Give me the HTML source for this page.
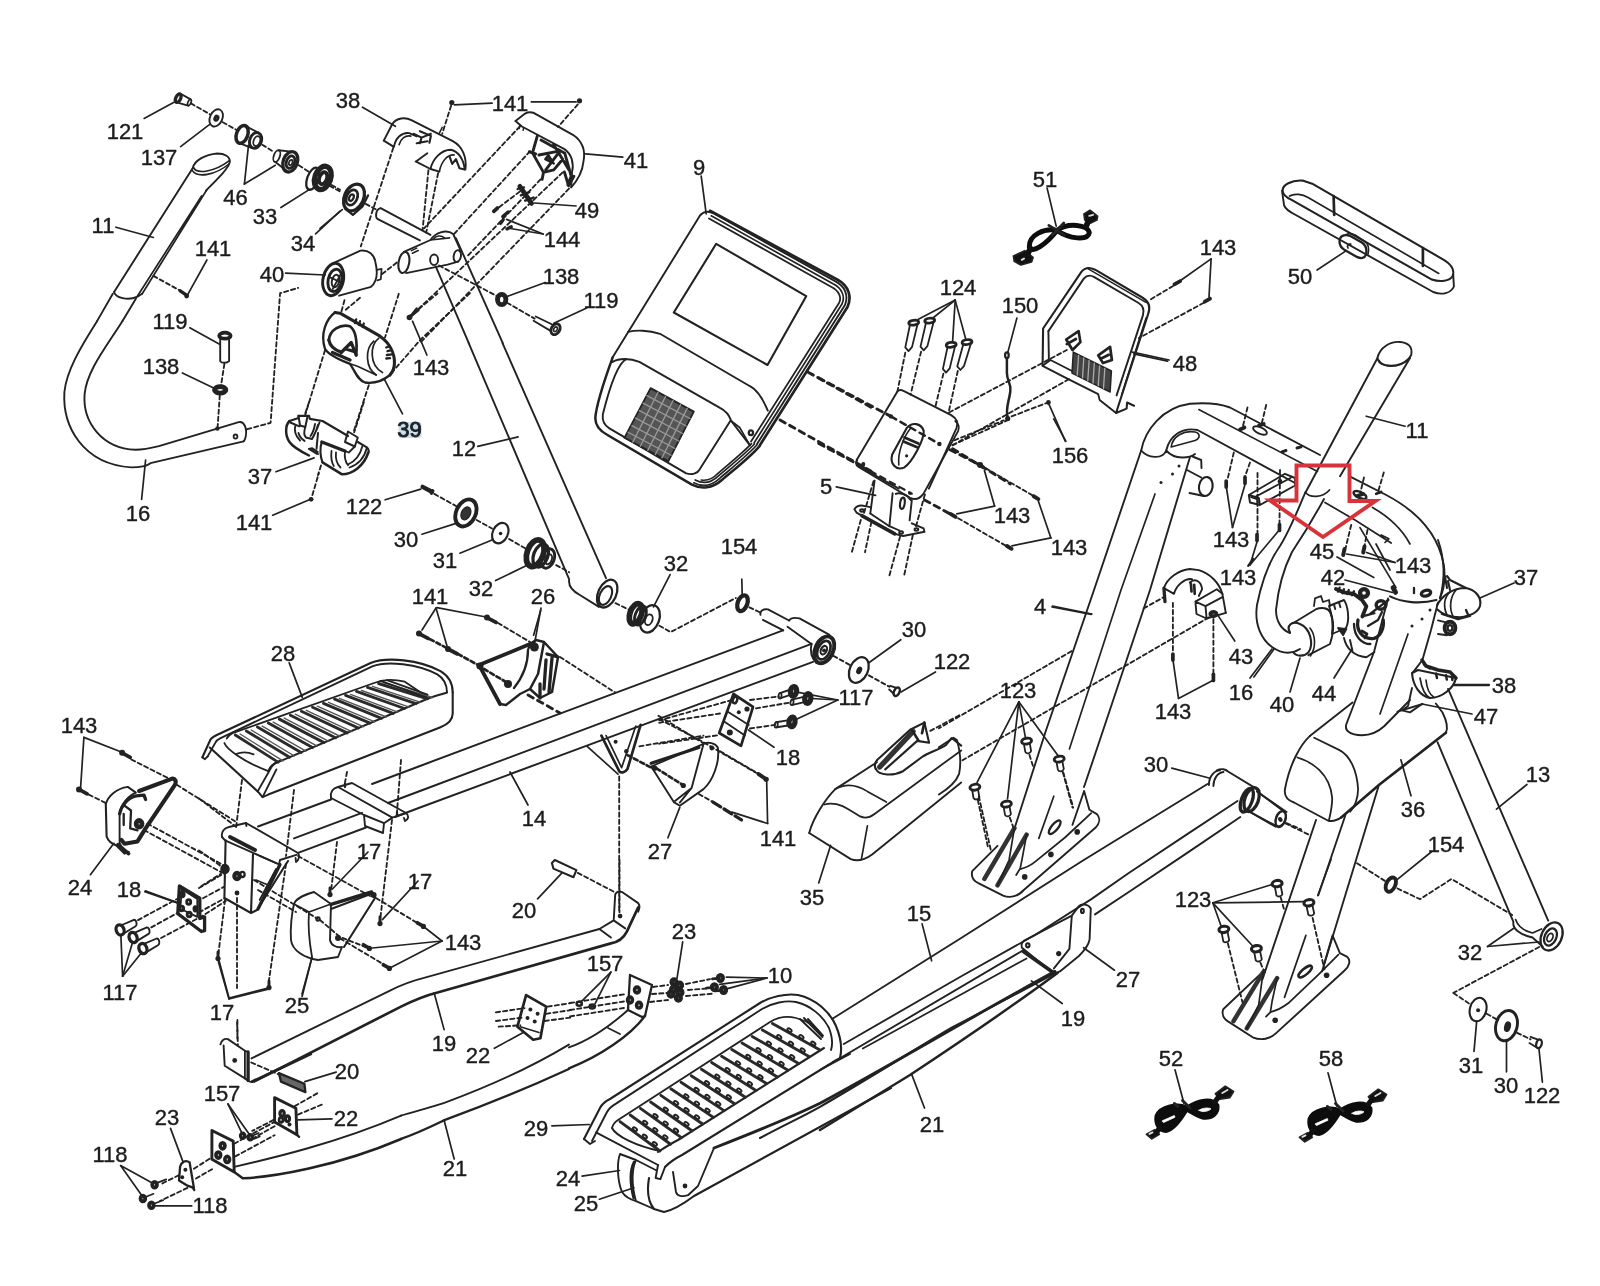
<!DOCTYPE html>
<html><head><meta charset="utf-8"><title>Parts diagram</title>
<style>html,body{margin:0;padding:0;background:#fff}svg{display:block;filter:blur(0.45px)}text{font-family:"Liberation Sans",sans-serif}</style>
</head><body>
<svg width="1600" height="1286" viewBox="0 0 1600 1286" stroke-linecap="round" stroke-linejoin="round">
<rect width="1600" height="1286" fill="#fff"/>
<ellipse cx="178.2" cy="98.2" rx="2.4" ry="4.5" transform="rotate(25 178.2 98.2)" fill="none" stroke="#222" stroke-width="3.30"/>
<path d="M 180.2,93.5 L 190.6,99.3 M 178.4,102.9 L 188.1,105.7" fill="none" stroke="#222" stroke-width="1.90"/>
<ellipse cx="189.4" cy="102.5" rx="1.5" ry="3.2" transform="rotate(25 189.4 102.5)" fill="none" stroke="#222" stroke-width="1.70"/>
<path d="M 190.9,103.4 L 209.7,114.1" fill="none" stroke="#222" stroke-width="1.85" stroke-dasharray="4.2 3"/>
<path d="M 222.8,122.2 L 236.9,130.2" fill="none" stroke="#222" stroke-width="1.85" stroke-dasharray="4.2 3"/>
<path d="M 262.2,144.7 L 274.4,152.2" fill="none" stroke="#222" stroke-width="1.85" stroke-dasharray="4.2 3"/>
<path d="M 298.8,165.3 L 309.1,171.9" fill="none" stroke="#222" stroke-width="1.85" stroke-dasharray="4.2 3"/>
<path d="M 331.6,185 L 340,189.7" fill="none" stroke="#222" stroke-width="1.85" stroke-dasharray="4.2 3"/>
<ellipse cx="216.2" cy="117.9" rx="6.2" ry="9.0" transform="rotate(25 216.2 117.9)" fill="none" stroke="#222" stroke-width="1.90"/>
<ellipse cx="216.4" cy="118.2" rx="1.5" ry="2.2" transform="rotate(25 216.4 118.2)" fill="none" stroke="#222" stroke-width="2.80"/>
<ellipse cx="242.1" cy="134.4" rx="5.6" ry="9.2" transform="rotate(20 242.1 134.4)" fill="none" stroke="#222" stroke-width="3.50"/>
<path d="M 244.8,125.6 L 258.1,132.5 M 239.3,143.2 L 252.2,148.1" fill="none" stroke="#222" stroke-width="1.90"/>
<ellipse cx="255.6" cy="140.4" rx="5.8" ry="8.1" transform="rotate(20 255.6 140.4)" fill="none" stroke="#222" stroke-width="2.90"/>
<ellipse cx="256.8" cy="141.1" rx="3.2" ry="5.1" transform="rotate(20 256.8 141.1)" fill="none" stroke="#222" stroke-width="1.80"/>
<path d="M 278.5,150.3 L 291.2,151.6 M 275.3,161.9 L 287.5,171.5" fill="none" stroke="#222" stroke-width="1.90"/>
<ellipse cx="276.8" cy="156.1" rx="3.0" ry="6.0" transform="rotate(20 276.8 156.1)" fill="none" stroke="#222" stroke-width="1.80"/>
<ellipse cx="290.3" cy="161.8" rx="7.1" ry="10.5" transform="rotate(20 290.3 161.8)" fill="none" stroke="#222" stroke-width="3.30"/>
<ellipse cx="290.5" cy="162.1" rx="4.1" ry="6.4" transform="rotate(20 290.5 162.1)" fill="none" stroke="#222" stroke-width="2.90"/>
<ellipse cx="290.7" cy="162.5" rx="1.7" ry="2.8" transform="rotate(20 290.7 162.5)" fill="none" stroke="#222" stroke-width="1.70"/>
<ellipse cx="312.8" cy="178.8" rx="5.6" ry="11.6" transform="rotate(20 312.8 178.8)" fill="none" stroke="#222" stroke-width="2.30"/>
<ellipse cx="322.8" cy="177.9" rx="7.9" ry="12.0" transform="rotate(20 322.8 177.9)" fill="none" stroke="#222" stroke-width="5.30"/>
<ellipse cx="323.1" cy="178.2" rx="3.8" ry="6.2" transform="rotate(20 323.1 178.2)" fill="none" stroke="#222" stroke-width="3.80"/>
<path d="M 192.8,168.1 L 114.1,291.9" fill="none" stroke="#222" stroke-width="1.90"/>
<path d="M 192.8,168.1 C 194.1,160.6 205,154.6 217.2,153.5 C 224.7,153.5 230.3,156.5 229.8,162.1 C 228.4,168.1 220,176.6 205.9,190.6" fill="none" stroke="#222" stroke-width="1.90"/>
<path d="M 193.4,167.4 C 196.6,174.7 214.4,171.9 229.4,160.6" fill="none" stroke="#222" stroke-width="1.70"/>
<path d="M 192.2,170.4 C 197.1,178.4 215.3,175.2 229,164" fill="none" stroke="#222" stroke-width="1.60"/>
<path d="M 206.5,190.2 L 142.2,293.8 M 201.6,195.9 L 137.5,296" fill="none" stroke="#222" stroke-width="1.70"/>
<path d="M 114.1,291.9 C 115,297.9 128.1,300.9 137.5,296.6 L 142.2,293.8" fill="none" stroke="#222" stroke-width="1.90"/>
<path d="M 112.8,293.8 L 97.2,320.9 M 136,298.4 L 122.5,320.9" fill="none" stroke="#222" stroke-width="1.90"/>
<path d="M 144.1,118.4 L 175.4,101.6" fill="none" stroke="#222" stroke-width="1.70"/>
<path d="M 180.6,146.6 L 209.7,124.4" fill="none" stroke="#222" stroke-width="1.70"/>
<path d="M 244.4,184.1 L 248.5,145.1" fill="none" stroke="#222" stroke-width="1.70"/>
<path d="M 244.4,184.1 L 275.3,165.3" fill="none" stroke="#222" stroke-width="1.70"/>
<path d="M 280.9,207.5 L 310,189.1" fill="none" stroke="#222" stroke-width="1.70"/>
<path d="M 315.6,233.8 L 340,211.2" fill="none" stroke="#222" stroke-width="1.70"/>
<path d="M 115.9,227.2 L 153.4,237.5" fill="none" stroke="#222" stroke-width="1.70"/>
<path d="M 206.9,260 L 188.1,293.8" fill="none" stroke="#222" stroke-width="1.70"/>
<path d="M 285.6,273.1 L 325,275" fill="none" stroke="#222" stroke-width="1.70"/>
<path d="M 180.2,290.9 L 187.2,295.6" fill="none" stroke="#222" stroke-width="3.50"/>
<circle cx="186.6" cy="296" r="2.4" fill="#222"/>
<path d="M 153.4,275.9 L 179.7,290.4" fill="none" stroke="#222" stroke-width="1.85" stroke-dasharray="4.2 3"/>
<path d="M 383.8,140.6 L 392.2,124.2 C 396.5,117.8 405,116.8 411.4,120.2 L 452.8,141.2 C 462.4,146.5 467,157.1 465.4,169.4" fill="none" stroke="#222" stroke-width="1.90"/>
<path d="M 383.8,140.6 L 393.9,146.9 C 395.4,138 401.8,132.1 409.2,133.1 L 416.7,136.3" fill="none" stroke="#222" stroke-width="1.90"/>
<path d="M 399.1,144.8 C 400.8,138.4 405.4,135 410.9,136.1" fill="none" stroke="#222" stroke-width="1.60"/>
<path d="M 413.5,133.8 L 421.6,137.6 L 419.9,143.3 M 421.6,137.6 L 430.9,133.8 M 419.9,131.2 L 430.9,135.9 L 429.4,142.7 M 416.7,143.3 L 427.3,141.2" fill="none" stroke="#222" stroke-width="2.10"/>
<path d="M 416.7,160.9 L 427.3,153.3 M 415.6,161.4 L 430.5,169 L 439.4,171.6" fill="none" stroke="#222" stroke-width="1.90"/>
<path d="M 430.5,169 C 432.6,159.2 441.1,149.7 450.7,149.7 C 458.1,150.8 463.6,159.2 464.7,169.4" fill="none" stroke="#222" stroke-width="1.90"/>
<path d="M 439.4,171.6 C 441.1,161.8 447.5,154.1 454.3,155" fill="none" stroke="#222" stroke-width="1.60"/>
<path d="M 449.6,156.7 L 452.2,163.9 L 456,159.2 L 459.4,168.2 L 464.7,169.4" fill="none" stroke="#222" stroke-width="2.10"/>
<path d="M 439,133.8 L 442.2,127.4" fill="none" stroke="#222" stroke-width="1.50"/>
<path d="M 515.5,121 L 525.1,113.6 C 529.3,111.4 533.6,112.5 536.8,114.6 L 572.9,134.8 C 582.4,141.2 585.6,150.8 583.5,161.4 C 582.4,172 577.5,180.5 571.2,187.3" fill="none" stroke="#222" stroke-width="1.90"/>
<path d="M 515.5,121 L 521.9,126.5 L 564.4,149.1 C 571.8,154.1 574.1,163.5 572,172.4 L 571.2,187.3" fill="none" stroke="#222" stroke-width="1.90"/>
<path d="M 519.8,125.7 L 519.3,128.4 M 523.6,127.8 L 523.1,130.3" fill="none" stroke="#222" stroke-width="1.50"/>
<path d="M 537.2,136.3 L 532.5,152.9 L 543.5,172.4 L 553.8,169.9 L 562.7,159.2 M 538.9,155 L 560.1,150.8 L 545.7,169.9 M 541,140.1 L 564.8,153.3 M 564.8,153.3 L 571.2,176.2 L 567.8,184.8 M 553.8,144.8 L 569,169.9 M 535.7,153.9 L 529.3,151.8 M 543.5,172.4 L 542.1,179.4 M 564.4,172 L 568.6,185.8 L 573.9,176.2" fill="none" stroke="#222" stroke-width="2.90"/>
<path d="M 545.2,159.2 L 553.8,163.5 L 548.4,155 Z" fill="#333" stroke="#222" stroke-width="2.30"/>
<path d="M 519.8,186.4 L 531.6,203.4" fill="none" stroke="#222" stroke-width="4.80"/>
<path d="M 517.6,189 L 524,187.3 M 520.8,195.4 L 529.3,192.2 M 525.1,200.7 L 533.6,197.5" fill="none" stroke="#222" stroke-width="2.30"/>
<path d="M 493.8,211.3 L 497.4,208.1" fill="none" stroke="#222" stroke-width="3.80"/>
<path d="M 502.8,216.6 L 508.1,211.9 M 500.6,223.4 L 503.2,219.8" fill="none" stroke="#222" stroke-width="3.30"/>
<path d="M 507,228.9 L 511.2,226.8" fill="none" stroke="#222" stroke-width="3.30"/>
<path d="M 543.1,234 L 506.6,219.4" fill="none" stroke="#222" stroke-width="1.70"/>
<path d="M 543.1,234 L 510.4,228.5" fill="none" stroke="#222" stroke-width="1.70"/>
<path d="M 576.1,206 L 534.6,203" fill="none" stroke="#222" stroke-width="1.70"/>
<circle cx="451.8" cy="102.5" r="2.6" fill="#222"/>
<circle cx="579.5" cy="100.8" r="2.6" fill="#222"/>
<path d="M 454.3,104.8 L 492.1,103.2" fill="none" stroke="#222" stroke-width="1.70"/>
<path d="M 531.4,101.9 L 576.1,101.9" fill="none" stroke="#222" stroke-width="1.70"/>
<path d="M 585.6,153.9 L 622.8,157.1" fill="none" stroke="#222" stroke-width="1.70"/>
<path d="M 362.5,107.2 L 395.4,126.3" fill="none" stroke="#222" stroke-width="1.70"/>
<path d="M 451.1,105.7 L 442.2,133.8" fill="none" stroke="#222" stroke-width="1.85" stroke-dasharray="4.2 3"/>
<path d="M 428.4,170.3 L 422.6,229.8" fill="none" stroke="#222" stroke-width="1.85" stroke-dasharray="4.2 3"/>
<path d="M 438.1,173.1 L 426.2,232.6" fill="none" stroke="#222" stroke-width="1.85" stroke-dasharray="4.2 3"/>
<path d="M 393.3,147.8 L 360.8,246.4" fill="none" stroke="#222" stroke-width="1.85" stroke-dasharray="4.2 3"/>
<path d="M 577.8,104.4 L 558,126.9" fill="none" stroke="#222" stroke-width="1.85" stroke-dasharray="4.2 3"/>
<path d="M 519.8,126.5 L 424.1,228.3" fill="none" stroke="#222" stroke-width="1.85" stroke-dasharray="4.2 3"/>
<path d="M 530,151.2 L 453.4,234.7" fill="none" stroke="#222" stroke-width="1.85" stroke-dasharray="4.2 3"/>
<path d="M 540.6,179.4 L 466.6,257" fill="none" stroke="#222" stroke-width="1.85" stroke-dasharray="4.2 3"/>
<path d="M 519.8,191.6 L 497.4,208.5" fill="none" stroke="#222" stroke-width="1.85" stroke-dasharray="4.2 3"/>
<path d="M 562.7,172.4 L 410.9,316.1" fill="none" stroke="#222" stroke-width="1.85" stroke-dasharray="4.2 3"/>
<path d="M 569,188.6 L 419.9,343.1" fill="none" stroke="#222" stroke-width="1.85" stroke-dasharray="4.2 3"/>
<path d="M 380.6,208.1 L 430.5,234.9 M 377.8,219.2 L 419.9,240.4 M 380.6,208.1 C 375.7,209.2 374.8,217 377.8,219.2" fill="none" stroke="#222" stroke-width="1.90"/>
<path d="M 403.9,251.9 L 430.5,240 C 434.8,233.2 445.8,228.3 453.2,234 L 460.7,250.6" fill="none" stroke="#222" stroke-width="1.90"/>
<path d="M 406.1,273.1 L 447.5,264.6 L 458.1,261.7" fill="none" stroke="#222" stroke-width="1.90"/>
<ellipse cx="403.9" cy="262.5" rx="5.3" ry="10.6" transform="rotate(10 403.9 262.5)" fill="none" stroke="#222" stroke-width="2.10"/>
<ellipse cx="457.3" cy="256.1" rx="3.6" ry="6.0" transform="rotate(10 457.3 256.1)" fill="none" stroke="#222" stroke-width="1.90"/>
<ellipse cx="434.1" cy="259.8" rx="4.0" ry="5.3" transform="rotate(0 434.1 259.8)" fill="none" stroke="#222" stroke-width="1.90"/>
<path d="M 430.5,240 L 449.6,237.9 M 433.7,238.9 C 435.8,235.8 441.1,234.7 444.3,237.9" fill="none" stroke="#222" stroke-width="1.60"/>
<path d="M 411.4,250.6 L 416.7,248.1 M 412.4,253.2 L 418.2,250.6" fill="none" stroke="#222" stroke-width="1.60"/>
<path d="M 435.8,266.6 L 468.8,343.1 M 456,238.3 L 502.8,343.1" fill="none" stroke="#222" stroke-width="1.90"/>
<ellipse cx="354" cy="197.5" rx="9.6" ry="14.0" transform="rotate(25 354 197.5)" fill="none" stroke="#222" stroke-width="3.30"/>
<ellipse cx="351.9" cy="197.5" rx="5.3" ry="8.1" transform="rotate(25 351.9 197.5)" fill="none" stroke="#222" stroke-width="2.70"/>
<ellipse cx="351.4" cy="197.7" rx="2.1" ry="3.4" transform="rotate(25 351.4 197.7)" fill="none" stroke="#222" stroke-width="2.30"/>
<path d="M 345.1,208.5 L 352.9,214.9 L 362.5,206.4 L 368,195.4" fill="none" stroke="#222" stroke-width="2.30"/>
<path d="M 320,228.3 L 342.3,209.6" fill="none" stroke="#222" stroke-width="1.70"/>
<path d="M 329.6,185.8 L 341.2,192.2" fill="none" stroke="#222" stroke-width="1.85" stroke-dasharray="4.2 3"/>
<path d="M 365.7,203.9 L 377.4,210.2" fill="none" stroke="#222" stroke-width="1.85" stroke-dasharray="4.2 3"/>
<path d="M 332.8,263.4 L 360.4,250.6 C 368.9,249.6 374.2,254.9 375.2,261.2 C 378.4,274 376.3,282.5 371,286.8 L 339.1,295.7" fill="none" stroke="#222" stroke-width="1.90"/>
<ellipse cx="333.2" cy="279.5" rx="10.2" ry="16.4" transform="rotate(12 333.2 279.5)" fill="none" stroke="#222" stroke-width="2.90"/>
<ellipse cx="334.9" cy="280.4" rx="6.8" ry="11.3" transform="rotate(12 334.9 280.4)" fill="none" stroke="#222" stroke-width="2.90"/>
<ellipse cx="335.5" cy="281" rx="3.6" ry="6.4" transform="rotate(12 335.5 281)" fill="none" stroke="#222" stroke-width="1.90"/>
<path d="M 329.6,277.2 L 341.2,282.5 M 332.8,288.9 L 340.2,275.1" fill="none" stroke="#222" stroke-width="1.90"/>
<path d="M 376.9,269.8 L 381.6,268.9 L 380.8,279.3 L 377.4,280.4" fill="none" stroke="#222" stroke-width="1.70"/>
<path d="M 382.1,274 L 398.6,261.2" fill="none" stroke="#222" stroke-width="1.85" stroke-dasharray="4.2 3"/>
<ellipse cx="501.7" cy="299.5" rx="4.2" ry="5.1" transform="rotate(0 501.7 299.5)" fill="none" stroke="#222" stroke-width="4.80"/>
<path d="M 439,265.5 L 497.4,296.3" fill="none" stroke="#222" stroke-width="1.85" stroke-dasharray="4.2 3"/>
<path d="M 507,302.7 L 534.6,318.6" fill="none" stroke="#222" stroke-width="1.85" stroke-dasharray="4.2 3"/>
<path d="M 535.7,316.5 L 553.3,325 M 533.6,320.8 L 550.6,330.9" fill="none" stroke="#222" stroke-width="1.90"/>
<ellipse cx="555.5" cy="329.2" rx="4.2" ry="5.7" transform="rotate(30 555.5 329.2)" fill="none" stroke="#222" stroke-width="2.90"/>
<ellipse cx="555.5" cy="329.2" rx="1.7" ry="2.5" transform="rotate(30 555.5 329.2)" fill="none" stroke="#222" stroke-width="1.70"/>
<path d="M 545.2,282.5 L 507,296.5" fill="none" stroke="#222" stroke-width="1.70"/>
<path d="M 586.7,308 L 553.8,323.3" fill="none" stroke="#222" stroke-width="1.70"/>
<path d="M 410.3,316.5 L 416.7,308.4" fill="none" stroke="#222" stroke-width="2.30"/>
<circle cx="410.1" cy="316.9" r="2.4" fill="#222"/>
<path d="M 97.2,321 C 80.4,347.4 66.6,370.8 64.4,392 C 62.3,426 82.5,464.2 131.4,467.4 C 139.9,467.4 146.2,466.4 150.5,463.2 L 243.6,441.3" fill="none" stroke="#222" stroke-width="1.90"/>
<path d="M 122.5,321 C 105.9,347.4 86.8,370.8 84.6,394.1 C 82.5,421.8 101.6,448.3 135.6,449.8 C 142,449.8 150.5,448.3 159,446.2 L 238.7,422.2 C 244,420.9 247.4,428.1 245.7,436.6 C 245.1,439.8 244.4,440.4 243.6,441.3" fill="none" stroke="#222" stroke-width="1.90"/>
<ellipse cx="235.5" cy="436.6" rx="1.9" ry="2.1" transform="rotate(0 235.5 436.6)" fill="none" stroke="#222" stroke-width="1.80"/>
<ellipse cx="224.9" cy="335.7" rx="5.7" ry="3.0" transform="rotate(0 224.9 335.7)" fill="none" stroke="#222" stroke-width="3.80"/>
<path d="M 220.2,339.3 L 220.2,361.2 C 221.7,363.3 227,363.3 229.1,361.2 L 229.1,339.3" fill="none" stroke="#222" stroke-width="1.90"/>
<path d="M 224.4,363.9 L 221,385.6" fill="none" stroke="#222" stroke-width="1.85" stroke-dasharray="4.2 3"/>
<path d="M 219.8,395.2 L 217.7,426" fill="none" stroke="#222" stroke-width="1.85" stroke-dasharray="4.2 3"/>
<ellipse cx="220.2" cy="389.9" rx="5.7" ry="3.2" transform="rotate(0 220.2 389.9)" fill="none" stroke="#222" stroke-width="4.80"/>
<circle cx="217.4" cy="428.5" r="2.2" fill="#222"/>
<path d="M 189.8,327.8 L 219.6,344.2" fill="none" stroke="#222" stroke-width="1.70"/>
<path d="M 182.4,372.9 L 214.2,388.2" fill="none" stroke="#222" stroke-width="1.70"/>
<path d="M 141.6,499.3 L 145.6,460" fill="none" stroke="#222" stroke-width="1.70"/>
<path d="M 275.9,471.7 L 314.1,457.9" fill="none" stroke="#222" stroke-width="1.70"/>
<path d="M 272.7,515.2 L 309.9,499.5" fill="none" stroke="#222" stroke-width="1.70"/>
<circle cx="311.1" cy="499.3" r="2.4" fill="#222"/>
<path d="M 312.4,495.1 L 318.8,473.2" fill="none" stroke="#222" stroke-width="1.85" stroke-dasharray="4.2 3"/>
<path d="M 247.2,429.2 L 270.6,422.8 L 280.1,293.2 L 298.2,287.9" fill="none" stroke="#222" stroke-width="1.85" stroke-dasharray="4.2 3"/>
<path d="M 289.5,421 C 285,425.5 285,435.3 289.5,442 C 292.5,446.5 300,451 309,455.5" fill="none" stroke="#222" stroke-width="2.50"/>
<path d="M 289.5,421 L 298.5,418 L 298.5,415.8 L 309,415.8 L 309.8,418.8 L 322.5,421 L 348,436" fill="none" stroke="#222" stroke-width="2.20"/>
<path d="M 298.5,415.8 L 300,425.5 L 305.3,427 L 307.5,416.5" fill="none" stroke="#222" stroke-width="2.00"/>
<path d="M 295.5,424.8 C 294,430 295.5,436 300,440.5 M 298.5,433 C 299.3,436 301.5,439 304.5,440.9 M 290.3,422.5 L 299.3,426.3" fill="none" stroke="#222" stroke-width="1.90"/>
<path d="M 305.3,427 C 303.8,431.5 303.8,435.3 306,437.5 L 312,439 C 315,434.5 316.5,430 318,424.8 M 312,439 C 313.5,436 316.5,431.5 319.5,422.5 M 315,424 C 314.3,428.5 312.8,433 310.5,436" fill="none" stroke="#222" stroke-width="1.90"/>
<path d="M 318,433 L 316.5,448.8 M 309,448.8 L 318,454" fill="none" stroke="#222" stroke-width="2.00"/>
<path d="M 309,448.8 L 312,448 L 318,451.8 L 316.5,454 Z" fill="#333" stroke="#222" stroke-width="1.50"/>
<path d="M 321.8,442 L 345,451" fill="none" stroke="#222" stroke-width="3.30"/>
<path d="M 321.8,442 C 319.5,448 320.3,457 322.5,462.3" fill="none" stroke="#222" stroke-width="2.10"/>
<path d="M 322.5,462.3 L 342,474.3 C 352.5,474.3 363.8,466 368.3,452.5" fill="none" stroke="#222" stroke-width="2.60"/>
<path d="M 348,431.5 L 345,442 L 354.8,446.5 L 357.8,437.5 Z" fill="none" stroke="#222" stroke-width="2.00"/>
<path d="M 357.8,442 L 366.8,447.3 C 369,449.5 369,451.8 368.3,452.5" fill="none" stroke="#222" stroke-width="2.10"/>
<path d="M 366.8,448 C 364.5,457 358.5,464.5 349.5,467.5 M 362.3,446.5 C 360,455.5 354.8,461.5 348,464.5 M 345,451 C 344.3,457 345,461.5 348,465.3 M 336,452.5 C 335.3,458.5 336.8,463.8 340.5,467.5 M 331.5,451 C 330.8,457 331.5,462.3 333.8,466 M 354.8,446.5 L 348.8,452.5 L 345,451" fill="none" stroke="#222" stroke-width="1.80"/>
<path d="M 309,402.3 L 304.7,415" fill="none" stroke="#222" stroke-width="1.85" stroke-dasharray="4.2 3"/>
<path d="M 363.8,402.3 L 354.2,432.3" fill="none" stroke="#222" stroke-width="1.85" stroke-dasharray="4.2 3"/>
<path d="M 321,465.4 L 318,475" fill="none" stroke="#222" stroke-width="1.85" stroke-dasharray="4.2 3"/>
<path d="M 335,312.5 C 326.2,318.8 320,333.8 325,348.8 C 328.8,355 340,360 350,363.8 C 355,371.2 357.5,380 365,382.5 C 375,383.8 382.5,381.2 390,375" fill="none" stroke="#222" stroke-width="2.30"/>
<path d="M 335,312.5 L 340,313.2 L 380,336.2 C 388.8,342.5 395,352.5 394.4,363.8 C 394.4,367.5 393.1,371.2 390,375" fill="none" stroke="#222" stroke-width="3.10"/>
<path d="M 378.8,338.1 C 370,345 368.8,365 382.5,372.5 M 373.8,341.2 C 365,348.8 365,367.5 376.2,375" fill="none" stroke="#222" stroke-width="1.70"/>
<path d="M 328.8,340 C 330,330 340,323.8 350,326.2 C 355,330 357.5,340 356.2,355" fill="none" stroke="#222" stroke-width="2.70"/>
<path d="M 328.8,340 C 330,346.2 335,350 340.6,351.9 M 341.2,352.5 L 351.2,342.5 L 356.2,355.2 M 346,349 L 354,351.5 M 332.5,352.5 L 350,360" fill="none" stroke="#222" stroke-width="3.30"/>
<path d="M 356.2,319.4 L 355,323.1 M 360,321.2 L 359,325 M 363.8,323.5 L 362.8,327 M 386.2,347.5 L 390,346.2 M 387.5,351.2 L 391.5,350.2 M 386.9,355 L 391.9,354.4 M 386.2,358.5 L 390,358.1" fill="none" stroke="#222" stroke-width="2.30"/>
<path d="M 350,363.8 L 357.5,366.2 L 376.2,375" fill="none" stroke="#222" stroke-width="1.60"/>
<path d="M 402.5,413.8 L 384.4,379.4" fill="none" stroke="#222" stroke-width="1.70"/>
<path d="M 426.9,355 L 412.5,321.2" fill="none" stroke="#222" stroke-width="1.70"/>
<path d="M 409.4,317.5 L 418.5,310" fill="none" stroke="#222" stroke-width="2.50"/>
<circle cx="409.4" cy="317.5" r="2.8" fill="#222"/>
<path d="M 341.5,311.2 L 345.2,297.5" fill="none" stroke="#222" stroke-width="1.85" stroke-dasharray="4.2 3"/>
<path d="M 360,297.8 L 344,311.2" fill="none" stroke="#222" stroke-width="1.85" stroke-dasharray="4.2 3"/>
<path d="M 398.8,293.8 L 385,337.5" fill="none" stroke="#222" stroke-width="1.85" stroke-dasharray="4.2 3"/>
<path d="M 325,350.2 L 305.2,415" fill="none" stroke="#222" stroke-width="1.85" stroke-dasharray="4.2 3"/>
<path d="M 368.8,385.2 L 353.8,431.2" fill="none" stroke="#222" stroke-width="1.85" stroke-dasharray="4.2 3"/>
<path d="M 418.8,309 L 437.5,293.5" fill="none" stroke="#222" stroke-width="1.85" stroke-dasharray="4.2 3"/>
<path d="M 470,293.1 L 420,340.2 L 390.2,374.5" fill="none" stroke="#222" stroke-width="1.85" stroke-dasharray="4.2 3"/>
<path d="M 612.5,357.5 L 700,215.5 C 703.8,211.2 708.8,210.8 713.8,213.5 L 835,281.2 C 845,286.2 848.8,295.5 845,305 L 757,444" fill="none" stroke="#222" stroke-width="1.90"/>
<path d="M 710,210.8 L 838,280 C 849,286.2 852,297 847.5,307 L 760,445" fill="none" stroke="#222" stroke-width="2.70"/>
<path d="M 711.2,215.8 L 833,283.8 C 842,288.2 845.5,296.5 842,304 L 754,443" fill="none" stroke="#222" stroke-width="1.70"/>
<path d="M 709,218.5 L 831.5,287 C 839,290.8 842,297.5 839,303 L 751,441.5" fill="none" stroke="#222" stroke-width="1.80"/>
<path d="M 716.2,243.8 L 806.2,296.2 L 767.5,365 L 673.8,312.5 Z" fill="none" stroke="#222" stroke-width="2.10"/>
<path d="M 701.2,176.2 L 706.2,213.8" fill="none" stroke="#222" stroke-width="1.70"/>
<path d="M 612.6,357.6 C 605.6,376.9 596.2,405 595.3,418.1 C 595.3,425.6 600,431.2 607.5,435 L 691.9,484.7 C 701.2,489.4 712.5,488.4 721.9,480 C 735,468.8 750,457.5 759.8,445.9" fill="none" stroke="#222" stroke-width="2.50"/>
<path d="M 693.8,482.8 C 702.2,487.1 711.6,486 720,478.1 C 733.1,466.9 747.2,455.6 757.1,444.8" fill="none" stroke="#222" stroke-width="1.70"/>
<path d="M 695.2,480 C 702.8,484.1 710.6,483.4 718.5,475.9 C 731.2,465 744.4,454.5 754.5,444" fill="none" stroke="#222" stroke-width="1.70"/>
<path d="M 701.2,480 C 706.9,480.9 712.5,479.1 717.2,474 C 729.4,463.5 741.6,453.8 751.5,443.6" fill="none" stroke="#222" stroke-width="1.70"/>
<path d="M 626.2,359.1 C 616.9,363.8 607.5,395.6 602.8,414.4 C 601.9,421.9 604.7,425.6 609.4,428.4 L 686.2,473.4 C 691.9,475.3 697.5,473.4 699.4,469.7 L 730.3,420.9" fill="none" stroke="#222" stroke-width="1.90"/>
<path d="M 612.6,361.9 C 618.8,358.1 630,358.1 639.4,361.9 L 720,407.8 C 725.6,410.6 729.4,415.3 731.2,420.9 L 750,445.3" fill="none" stroke="#222" stroke-width="1.90"/>
<path d="M 628.1,331.9 C 635.6,330 648.8,330 660,333.8 L 750,386.2 C 757.5,390 763.1,399.4 767.8,410.6" fill="none" stroke="#222" stroke-width="1.90"/>
<path d="M 731.2,420.9 L 739.7,427.5 L 750,445.3" fill="none" stroke="#222" stroke-width="1.60"/>
<ellipse cx="750.9" cy="432.8" rx="2.1" ry="2.4" transform="rotate(0 750.9 432.8)" fill="none" stroke="#222" stroke-width="2.30"/>
<path d="M 650.6,388.1 L 693.8,411.6 L 668.4,461.2 L 624.4,437.8 Z" fill="#555" stroke="#222" stroke-width="1.80"/>
<path d="M 646.9,395.6 L 690,418.5 M 643.1,403.1 L 686.2,426 M 639.4,410.6 L 682.5,433.5 M 635.6,418.1 L 678.8,441 M 631.9,425.6 L 675,448.5 M 628.1,432.2 L 671.2,455.2" fill="none" stroke="#999" stroke-width="1.30"/>
<path d="M 658.1,392.2 L 632.8,442.1 M 665.6,396.4 L 640.3,446.2 M 673.1,400.5 L 647.8,450.4 M 680.6,404.6 L 655.3,454.5 M 687.2,408.4 L 661.9,457.9" fill="none" stroke="#999" stroke-width="1.30"/>
<path d="M 808.1,372.2 L 870.9,407.2" fill="none" stroke="#222" stroke-width="2.90" stroke-dasharray="6 5"/>
<path d="M 780,420 L 870.9,471" fill="none" stroke="#222" stroke-width="2.90" stroke-dasharray="6 5"/>
<path d="M 1057,230.5 C 1045,227.5 1028.5,235 1029.3,247 C 1031.5,254.5 1046.5,244 1057,230.5 Z" fill="none" stroke="#0d0d0d" stroke-width="4.90"/>
<path d="M 1057,230.5 C 1067.5,222.3 1088.5,224.5 1089.3,232.8 C 1087.8,241 1069,238.8 1057,230.5 Z" fill="none" stroke="#0d0d0d" stroke-width="4.90"/>
<path d="M 1048.8,225.3 L 1064.5,235 M 1052.5,235 L 1063.8,223" fill="none" stroke="#222" stroke-width="2.70"/>
<path d="M 1013.5,256 L 1024.8,250.8 L 1033,257.5 L 1031.5,262 L 1021,265 L 1014.3,261.3 Z" fill="#111" stroke="#222" stroke-width="1.80"/>
<path d="M 1030.4,248.5 L 1027.8,253.8" fill="none" stroke="#111" stroke-width="5.80"/>
<path d="M 1084,214 L 1090,210.3 L 1097.5,216.3 L 1096.8,220 L 1090.8,223 L 1084.8,220 Z" fill="#111" stroke="#222" stroke-width="1.80"/>
<path d="M 1086.3,226 L 1088.1,221.5" fill="none" stroke="#111" stroke-width="5.80"/>
<path d="M 1021.8,259.8 L 1024,258.6 M 1089.3,215.9 L 1093,214.8" fill="none" stroke="#ddd" stroke-width="1.90"/>
<path d="M 1047.1,188.1 L 1056.2,226.1" fill="none" stroke="#222" stroke-width="1.70"/>
<ellipse cx="913.7" cy="322.7" rx="5.0" ry="2.4" transform="rotate(-8 913.7 322.7)" fill="none" stroke="#222" stroke-width="2.70"/>
<path d="M 910,324.8 L 905.3,347.4 L 908.5,351.1 L 912.1,346.9 L 917.4,324.8" fill="none" stroke="#222" stroke-width="1.80"/>
<ellipse cx="929.7" cy="320.6" rx="5.0" ry="2.4" transform="rotate(-8 929.7 320.6)" fill="none" stroke="#222" stroke-width="2.70"/>
<path d="M 926,322.7 L 920.5,346.6 L 923.7,350.3 L 927.4,346.1 L 933.4,322.7" fill="none" stroke="#222" stroke-width="1.80"/>
<ellipse cx="951.2" cy="344.8" rx="5.0" ry="2.4" transform="rotate(-8 951.2 344.8)" fill="none" stroke="#222" stroke-width="2.70"/>
<path d="M 947.6,346.9 L 942.9,368.9 L 946,372.6 L 949.7,368.4 L 954.9,346.9" fill="none" stroke="#222" stroke-width="1.80"/>
<ellipse cx="967" cy="342.1" rx="5.0" ry="2.4" transform="rotate(-8 967 342.1)" fill="none" stroke="#222" stroke-width="2.70"/>
<path d="M 963.3,344.2 L 957.3,366.3 L 960.4,370 L 964.1,365.8 L 970.7,344.2" fill="none" stroke="#222" stroke-width="1.80"/>
<path d="M 955.2,300.1 L 918.4,319.3" fill="none" stroke="#222" stroke-width="1.70"/>
<path d="M 955.2,300.1 L 932.9,318" fill="none" stroke="#222" stroke-width="1.70"/>
<path d="M 955.2,300.1 L 952.6,341.6" fill="none" stroke="#222" stroke-width="1.70"/>
<path d="M 955.2,300.1 L 965.7,339" fill="none" stroke="#222" stroke-width="1.70"/>
<path d="M 905.3,352.6 L 897.4,391.5" fill="none" stroke="#222" stroke-width="1.85" stroke-dasharray="4.2 3"/>
<path d="M 921.1,351.6 L 910.6,394.6" fill="none" stroke="#222" stroke-width="1.85" stroke-dasharray="4.2 3"/>
<path d="M 943.4,373.6 L 935.5,406.2" fill="none" stroke="#222" stroke-width="1.85" stroke-dasharray="4.2 3"/>
<path d="M 957.8,371 L 948.6,412.5" fill="none" stroke="#222" stroke-width="1.85" stroke-dasharray="4.2 3"/>
<path d="M 856.8,459.8 L 897.4,391.5 C 898.8,389.7 901.4,389.7 904,391.2 L 951.2,415.1 C 956.5,418.3 958.6,423 956.5,428.2 L 928.9,488.6" fill="none" stroke="#222" stroke-width="1.90"/>
<path d="M 856.8,459.8 C 855.4,463.7 856.8,465 859.4,466.6 L 898.8,488.6" fill="none" stroke="#222" stroke-width="1.90"/>
<path d="M 906.6,428.2 C 911.9,421.7 921.1,423 923.7,430.9 C 924.5,438.8 912.4,462.4 904,467.6 C 896.1,470.8 889.6,464 892.2,454.5 Z" fill="none" stroke="#222" stroke-width="2.10"/>
<path d="M 904.5,437.4 L 918.4,443.5 M 903.5,441.4 L 917.1,447.2" fill="none" stroke="#222" stroke-width="2.70"/>
<path d="M 898.8,465 C 897.4,451.9 904,436.1 910.6,428.2" fill="none" stroke="#222" stroke-width="1.60"/>
<path d="M 818.7,377.9 L 890.9,416.4" fill="none" stroke="#222" stroke-width="2.90" stroke-dasharray="6 5"/>
<path d="M 818.7,443.5 L 855.4,462.9" fill="none" stroke="#222" stroke-width="2.90" stroke-dasharray="6 5"/>
<path d="M 890.9,416.4 L 939.4,444" fill="none" stroke="#222" stroke-width="2.50" stroke-dasharray="6 5"/>
<path d="M 952.6,448.7 L 1010.3,483.9" fill="none" stroke="#222" stroke-width="2.90" stroke-dasharray="6 5"/>
<circle cx="890.9" cy="416.4" r="2.2" fill="#222"/>
<circle cx="939.4" cy="444" r="2.2" fill="#222"/>
<circle cx="863.3" cy="464" r="2" fill="#222"/>
<circle cx="906.6" cy="455.8" r="1.6" fill="#222"/>
<circle cx="980.1" cy="465" r="3" fill="#222"/>
<path d="M 949.1,412.5 L 1066.8,350" fill="none" stroke="#222" stroke-width="1.85" stroke-dasharray="4.2 3"/>
<path d="M 954.4,440.3 L 1003.8,420.4" fill="none" stroke="#222" stroke-width="1.85" stroke-dasharray="4.2 3"/>
<path d="M 1011.6,416.4 L 1047.8,402.5" fill="none" stroke="#222" stroke-width="1.85" stroke-dasharray="4.2 3"/>
<path d="M 952.6,445.3 L 1069.4,378.9" fill="none" stroke="#222" stroke-width="1.85" stroke-dasharray="4.2 3"/>
<ellipse cx="1006.9" cy="355.3" rx="1.8" ry="2.9" transform="rotate(0 1006.9 355.3)" fill="none" stroke="#222" stroke-width="2.30"/>
<path d="M 1006.9,358.4 L 1006.9,373.1 C 1006.9,381 1011.6,383.6 1010.3,391.5 C 1009,402 1005.1,408.6 1007.7,417.8" fill="none" stroke="#222" stroke-width="2.50"/>
<circle cx="1007.7" cy="418.5" r="2.6" fill="#222"/>
<path d="M 1016.9,318 L 1008,351.6" fill="none" stroke="#222" stroke-width="1.70"/>
<circle cx="1048.4" cy="402.5" r="2.4" fill="#222"/>
<path d="M 1065.4,441.4 L 1048.9,404.1" fill="none" stroke="#222" stroke-width="1.70"/>
<path d="M 1042.6,365.8 L 1043.1,328.5 L 1081.2,272.1 C 1084.6,267.6 1089.8,267.1 1095.1,269.7 L 1142.3,297.5 C 1148.7,301.2 1150.8,307 1148.1,314.1 L 1119.2,403.3 L 1116.1,413 L 1126.6,408.6 L 1127.1,402.5 L 1134,405.7" fill="none" stroke="#222" stroke-width="2.10"/>
<path d="M 1048.4,331.1 L 1083.8,278.6 C 1086.4,275.5 1090.4,274.9 1094.3,277.1 L 1138.2,302.8 C 1143.4,305.9 1144.5,310.1 1142.9,315.4 L 1116.6,395.4" fill="none" stroke="#222" stroke-width="1.90"/>
<path d="M 1087.8,268.6 L 1145.5,302.2 M 1146,318 L 1121.9,394.1" fill="none" stroke="#222" stroke-width="1.50"/>
<path d="M 1042.6,365.8 L 1066.8,378.4 L 1098.2,394.1 L 1099.6,399.9 L 1116.1,413 M 1042.6,365.8 L 1050.5,360 L 1072,371 M 1048.4,331.1 L 1048.9,360.5" fill="none" stroke="#222" stroke-width="1.90"/>
<path d="M 1073.3,352.1 L 1111.4,371 L 1110.1,392 L 1072,373.1 Z" fill="#444" stroke="#222" stroke-width="1.50"/>
<path d="M 1078.6,355.3 L 1077.2,375.2 M 1083.8,357.9 L 1082.5,377.9 M 1089.1,360.5 L 1087.8,380.5 M 1094.3,363.1 L 1093,383.1 M 1099.6,365.8 L 1098.2,385.7 M 1104.8,368.4 L 1103.5,388.4" fill="none" stroke="#aaa" stroke-width="1.30"/>
<path d="M 1066.2,339.5 L 1078.6,331.1 L 1080.4,342.1 L 1072.5,350 Z M 1066.8,344.2 L 1075.9,339" fill="none" stroke="#222" stroke-width="2.70"/>
<path d="M 1098.2,355.3 L 1110.1,346.9 L 1111.9,360 L 1103,363.1 Z M 1100.3,359 L 1108.8,354.8" fill="none" stroke="#222" stroke-width="2.70"/>
<path d="M 1169.1,360 L 1132.4,352.1" fill="none" stroke="#222" stroke-width="1.70"/>
<path d="M 1174.4,284.4 L 1180.2,281.2" fill="none" stroke="#222" stroke-width="3.70"/>
<path d="M 1204.8,301.7 L 1210.1,298.6" fill="none" stroke="#222" stroke-width="3.70"/>
<path d="M 1211.1,258.9 L 1180.2,280.7" fill="none" stroke="#222" stroke-width="1.70"/>
<path d="M 1211.1,258.9 L 1209,297" fill="none" stroke="#222" stroke-width="1.70"/>
<path d="M 1173.1,286 L 1149.4,300.1" fill="none" stroke="#222" stroke-width="1.85" stroke-dasharray="4.2 3"/>
<path d="M 1203.8,302.8 L 1138.9,338" fill="none" stroke="#222" stroke-width="1.85" stroke-dasharray="4.2 3"/>
<path d="M 856.9,460.4 C 855.4,463.6 856.5,465.7 859,467.2 L 910,497.8 C 916,500.8 920.2,498.2 923.4,493.9 L 958.1,431.1 C 959.6,427.4 958.5,423.2 955.3,421.1" fill="none" stroke="#222" stroke-width="1.90"/>
<path d="M 874.6,480.6 L 870.3,513.5 M 892.6,493.3 L 889.4,526.2 M 911.8,500.3 L 909.6,520.3 M 895.8,493.9 C 899,492.2 907.5,494.4 910.7,499.9" fill="none" stroke="#222" stroke-width="1.90"/>
<ellipse cx="902.4" cy="503.3" rx="2.3" ry="5.7" transform="rotate(8 902.4 503.3)" fill="none" stroke="#222" stroke-width="2.10"/>
<path d="M 854.4,509.2 C 856.5,506.1 860.8,505 865,506.1 L 870.3,507.1 M 854.4,509.2 L 856.5,512.6 L 894.8,533.9 L 903.2,536 L 924.5,531.8 L 923.6,528.4 L 911.8,523.3 M 870.3,513.5 L 889.4,526.2 L 899.4,530.5" fill="none" stroke="#222" stroke-width="1.90"/>
<path d="M 861.8,515.6 L 894.8,533.9" fill="none" stroke="#222" stroke-width="3.50"/>
<ellipse cx="862" cy="510.5" rx="1.9" ry="1.3" transform="rotate(0 862 510.5)" fill="none" stroke="#222" stroke-width="1.90"/>
<ellipse cx="901.1" cy="532.6" rx="1.9" ry="1.3" transform="rotate(0 901.1 532.6)" fill="none" stroke="#222" stroke-width="1.90"/>
<ellipse cx="916.4" cy="529.6" rx="1.9" ry="1.3" transform="rotate(0 916.4 529.6)" fill="none" stroke="#222" stroke-width="1.90"/>
<path d="M 873.5,481.2 L 863.9,513.5" fill="none" stroke="#222" stroke-width="1.85" stroke-dasharray="4.2 3"/>
<path d="M 860.8,519.9 L 851.2,554.3" fill="none" stroke="#222" stroke-width="1.85" stroke-dasharray="4.2 3"/>
<path d="M 871.4,522 L 865,552.2" fill="none" stroke="#222" stroke-width="1.85" stroke-dasharray="4.2 3"/>
<path d="M 900.1,536.5 L 889.4,575.5" fill="none" stroke="#222" stroke-width="1.85" stroke-dasharray="4.2 3"/>
<path d="M 912.8,535.2 L 904.3,574.7" fill="none" stroke="#222" stroke-width="1.85" stroke-dasharray="4.2 3"/>
<path d="M 924.9,494.4 L 916,526.2" fill="none" stroke="#222" stroke-width="1.85" stroke-dasharray="4.2 3"/>
<path d="M 836.3,486.9 L 875.6,495.4" fill="none" stroke="#222" stroke-width="1.70"/>
<path d="M 860.8,465.7 L 911.8,493.7" fill="none" stroke="#222" stroke-width="2.10" stroke-dasharray="6 5"/>
<path d="M 924.5,499.9 L 950,513.9" fill="none" stroke="#222" stroke-width="2.90" stroke-dasharray="6 5"/>
<path d="M 958.1,518.2 L 1005.2,545.4" fill="none" stroke="#222" stroke-width="1.85" stroke-dasharray="4.2 3"/>
<path d="M 950,449.8 L 977.6,463.8" fill="none" stroke="#222" stroke-width="2.90" stroke-dasharray="6 5"/>
<path d="M 985.3,468 L 1032.9,495.6" fill="none" stroke="#222" stroke-width="1.85" stroke-dasharray="4.2 3"/>
<path d="M 952.5,445.1 L 1010.6,418.9" fill="none" stroke="#222" stroke-width="1.85" stroke-dasharray="4.2 3"/>
<path d="M 950.9,514.1 L 955.5,516.9" fill="none" stroke="#222" stroke-width="3.90"/>
<path d="M 1007,546 L 1011.6,548.8" fill="none" stroke="#222" stroke-width="3.90"/>
<path d="M 978.5,464.4 L 983.1,467.2" fill="none" stroke="#222" stroke-width="3.90"/>
<path d="M 1033.7,496.3 L 1038.4,499.1" fill="none" stroke="#222" stroke-width="3.90"/>
<path d="M 994.6,506.1 L 984.4,470.6" fill="none" stroke="#222" stroke-width="1.70"/>
<path d="M 994.6,506.1 L 956.8,513.9" fill="none" stroke="#222" stroke-width="1.70"/>
<path d="M 1050.9,537.9 L 1038.4,501.2" fill="none" stroke="#222" stroke-width="1.70"/>
<path d="M 1050.9,537.9 L 1012,545.8" fill="none" stroke="#222" stroke-width="1.70"/>
<path d="M 1065.8,441.2 L 1053.7,418.9" fill="none" stroke="#222" stroke-width="1.70"/>
<path d="M 1052,607 L 1091.3,614.4" fill="none" stroke="#222" stroke-width="1.70"/>
<circle cx="863.3" cy="465.1" r="1.8" fill="#222"/>
<circle cx="910" cy="493.3" r="1.8" fill="#222"/>
<path d="M 1141.2,450.5 C 1145,430 1162.5,407.5 1190,403.8 C 1205,402.5 1220,403.8 1230,407.5 L 1320,455" fill="none" stroke="#222" stroke-width="1.90"/>
<path d="M 1349.2,476.2 L 1386.2,495 C 1412.5,508.8 1437.5,530 1443.8,565 C 1445.5,577.5 1443.8,590 1440,598" fill="none" stroke="#222" stroke-width="1.90"/>
<path d="M 1166.2,450.5 C 1170,435 1182.5,427 1197.5,430 L 1295,483" fill="none" stroke="#222" stroke-width="1.90"/>
<path d="M 1198.8,409.5 L 1317.5,471.5" fill="none" stroke="#222" stroke-width="1.60"/>
<path d="M 1325,502.5 L 1355,520 L 1391.2,543 M 1372.5,507.5 C 1390,517.5 1402.5,530 1410,544 M 1381.2,535 L 1388.8,538.8 L 1385,542.5" fill="none" stroke="#222" stroke-width="1.70"/>
<path d="M 1141.2,450.5 C 1147.5,458 1162.5,460 1166.2,450.5 C 1175,460.5 1190,458 1195,454" fill="none" stroke="#222" stroke-width="1.90"/>
<path d="M 1171.2,447 C 1172.5,436.2 1183.8,430 1195,432 C 1200.5,433.5 1200.5,438 1195,440.5 Z" fill="none" stroke="#222" stroke-width="1.70"/>
<path d="M 1141,451 L 1094,590 L 1045.8,731 L 1014,830 M 1190,457 L 1150,590 L 1097.5,747 L 1084,787" fill="none" stroke="#222" stroke-width="1.90"/>
<path d="M 1155,494 L 1121,590 L 1069.4,749" fill="none" stroke="#222" stroke-width="1.70"/>
<circle cx="1161" cy="482.5" r="1.5" fill="#222"/>
<circle cx="1172.5" cy="474" r="1.5" fill="#222"/>
<circle cx="1179" cy="466" r="1.5" fill="#222"/>
<path d="M 1192.5,456.5 L 1201.2,460 L 1201.5,468 M 1187,470 L 1201.2,477.5 M 1189.5,493 L 1203.8,496" fill="none" stroke="#222" stroke-width="1.90"/>
<ellipse cx="1205.8" cy="486.5" rx="6.8" ry="9.5" transform="rotate(10 1205.8 486.5)" fill="none" stroke="#222" stroke-width="2.10"/>
<ellipse cx="1260" cy="430.5" rx="7.5" ry="3.2" transform="rotate(25 1260 430.5)" fill="none" stroke="#222" stroke-width="1.90"/>
<path d="M 1240,429.5 L 1244.5,427.5 M 1259,425.5 L 1263.8,424" fill="none" stroke="#222" stroke-width="3.70"/>
<path d="M 1282,451.8 L 1286,450.5 M 1297,448 L 1301,446.8" fill="none" stroke="#222" stroke-width="2.90"/>
<path d="M 1247.5,407.5 L 1242.5,428" fill="none" stroke="#222" stroke-width="1.85" stroke-dasharray="4.2 3"/>
<path d="M 1266.2,405 L 1261.5,424.5" fill="none" stroke="#222" stroke-width="1.85" stroke-dasharray="4.2 3"/>
<ellipse cx="1360" cy="495" rx="7.0" ry="3.0" transform="rotate(25 1360 495)" fill="none" stroke="#222" stroke-width="2.50"/>
<path d="M 1357,496 L 1363,494" fill="none" stroke="#222" stroke-width="3.90"/>
<path d="M 1376.2,493.8 L 1381.2,492" fill="none" stroke="#222" stroke-width="2.70"/>
<path d="M 1383.8,472.5 L 1378,492" fill="none" stroke="#222" stroke-width="1.85" stroke-dasharray="4.2 3"/>
<path d="M 1364,477.5 L 1360.5,492" fill="none" stroke="#222" stroke-width="1.85" stroke-dasharray="4.2 3"/>
<path d="M 1248.8,495 L 1285,473.8 L 1295,478 L 1295,485.5 L 1260,505 L 1250,502.5 Z M 1255,497 L 1290.5,478 M 1248.8,495 L 1258.8,498 L 1260,505 M 1251.2,497 L 1257,499 L 1257.5,503" fill="none" stroke="#222" stroke-width="1.90"/>
<circle cx="1280" cy="481.5" r="2.4" fill="#222"/>
<path d="M 1226.2,481 L 1226.2,487" fill="none" stroke="#222" stroke-width="3.70"/>
<path d="M 1245,477.2 L 1245,483.2" fill="none" stroke="#222" stroke-width="3.70"/>
<path d="M 1257,534.5 L 1257,540.5" fill="none" stroke="#222" stroke-width="3.70"/>
<path d="M 1279.5,524.5 L 1279.5,530.5" fill="none" stroke="#222" stroke-width="3.70"/>
<path d="M 1233.8,452.5 L 1227.5,479.5" fill="none" stroke="#222" stroke-width="1.85" stroke-dasharray="4.2 3"/>
<path d="M 1250,462.5 L 1245,476.5" fill="none" stroke="#222" stroke-width="1.85" stroke-dasharray="4.2 3"/>
<path d="M 1257.5,473 L 1257.5,533.8" fill="none" stroke="#222" stroke-width="1.85" stroke-dasharray="4.2 3"/>
<path d="M 1280,470 L 1279.5,523.8" fill="none" stroke="#222" stroke-width="1.85" stroke-dasharray="4.2 3"/>
<path d="M 1232.5,527.5 L 1226.5,488" fill="none" stroke="#222" stroke-width="1.70"/>
<path d="M 1232.5,527.5 L 1245,484.5" fill="none" stroke="#222" stroke-width="1.70"/>
<path d="M 1250,565 L 1257,542" fill="none" stroke="#222" stroke-width="1.70"/>
<path d="M 1250,565 L 1278,531.5" fill="none" stroke="#222" stroke-width="1.70"/>
<path d="M 1377.5,357.5 C 1380,347.5 1390,341.2 1400,342 C 1407.5,342.5 1413,346.2 1411.2,355 C 1407.5,362.5 1397.5,367.5 1385,365 C 1380,363.8 1377.5,361.2 1377.5,357.5" fill="none" stroke="#222" stroke-width="1.90"/>
<path d="M 1378.8,360 C 1382.5,367.5 1397.5,370 1410,358" fill="none" stroke="#222" stroke-width="1.60"/>
<path d="M 1377.5,358 L 1305.5,492.5 M 1410,358 L 1340,476.2" fill="none" stroke="#222" stroke-width="1.90"/>
<path d="M 1305.5,492.5 C 1310,498 1322.5,498 1329.5,490" fill="none" stroke="#222" stroke-width="1.80"/>
<path d="M 1405,426.2 L 1366.2,416.2" fill="none" stroke="#222" stroke-width="1.70"/>
<path d="M 1167.5,361.2 L 1133.8,353.8" fill="none" stroke="#222" stroke-width="1.70"/>
<path d="M 1344.5,549 L 1343.2,555" fill="none" stroke="#222" stroke-width="3.90"/>
<path d="M 1364.5,546.5 L 1363.2,552.5" fill="none" stroke="#222" stroke-width="3.90"/>
<path d="M 1351.2,525 L 1345.5,548.5" fill="none" stroke="#222" stroke-width="1.85" stroke-dasharray="4.2 3"/>
<path d="M 1367.5,530 L 1364.5,546" fill="none" stroke="#222" stroke-width="1.85" stroke-dasharray="4.2 3"/>
<path d="M 1395,562.5 L 1346.5,554" fill="none" stroke="#222" stroke-width="1.70"/>
<path d="M 1395,562.5 L 1366.5,552.5" fill="none" stroke="#222" stroke-width="1.70"/>
<path d="M 1337,557 L 1373.8,577.5" fill="none" stroke="#222" stroke-width="1.70"/>
<path d="M 1345,580 L 1392.5,592.5" fill="none" stroke="#222" stroke-width="1.70"/>
<path d="M 1305.5,492 C 1300,505 1290,530 1280,546 C 1270,560 1262,580 1257,605 C 1254,625 1262,640 1272,647 C 1282,654 1292,654 1300,649" fill="none" stroke="#222" stroke-width="1.90"/>
<path d="M 1324,499 C 1318,510 1300,540 1292,552 C 1284,568 1278,590 1276,610 C 1276,622 1282,630 1290,633" fill="none" stroke="#222" stroke-width="1.90"/>
<path d="M 1296.5,465.5 L 1349.5,465.5 L 1349.5,501 L 1375.5,501 L 1323,537 L 1270,500.5 L 1296.5,500.5 Z" fill="none" stroke="#d8323a" stroke-width="3.90" stroke-linejoin="miter"/>
<path d="M 1290,632.4 C 1286,626 1292,620 1300,624 C 1310,628 1314.4,644 1308.4,652.4 C 1304,657.2 1296,656.4 1293,652" fill="none" stroke="#222" stroke-width="2.10"/>
<path d="M 1293,623.2 L 1316,609.2 C 1322,607 1328,608 1330,612 C 1334,620 1334,632 1330,644 L 1308.4,655.2" fill="none" stroke="#222" stroke-width="1.90"/>
<path d="M 1310,628 C 1316,636 1316,648 1310.4,656" fill="none" stroke="#222" stroke-width="1.60"/>
<path d="M 1329,606 L 1344,600 C 1348,606 1350,620 1346,628 L 1332,634 M 1329,606 C 1332,614 1333,626 1332,634" fill="none" stroke="#222" stroke-width="1.90"/>
<path d="M 1314,606 L 1315,598.4 L 1321,596 L 1323,602 L 1329,600 L 1330,606" fill="none" stroke="#222" stroke-width="1.80"/>
<path d="M 1334,604.4 L 1335.2,609 M 1339,602.4 L 1340.4,607.2" fill="none" stroke="#222" stroke-width="1.90"/>
<path d="M 1336,589 L 1344,592.4 L 1354,594 L 1362,600 L 1366.4,606.4 L 1362.4,616.4" fill="none" stroke="#222" stroke-width="3.90"/>
<path d="M 1338,591.6 L 1339.6,587.6 M 1342.4,593.2 L 1344,589.2 M 1347.2,594 L 1348.8,590 M 1352,595.2 L 1354,591.2" fill="none" stroke="#222" stroke-width="2.30"/>
<path d="M 1358,620 C 1356,630 1362,640 1374,638.4 C 1380.4,636.4 1384.4,628 1383.2,620" fill="none" stroke="#222" stroke-width="3.30"/>
<path d="M 1354,624 C 1354,636.4 1362,644 1370.4,644" fill="none" stroke="#222" stroke-width="2.30"/>
<ellipse cx="1364" cy="593" rx="4.0" ry="3.8" transform="rotate(0 1364 593)" fill="none" stroke="#222" stroke-width="4.30"/>
<ellipse cx="1381" cy="605" rx="4.8" ry="4.2" transform="rotate(0 1381 605)" fill="none" stroke="#222" stroke-width="3.50"/>
<path d="M 1393,587.6 L 1395.6,592.4" fill="none" stroke="#222" stroke-width="4.80"/>
<path d="M 1370,614 L 1380,606.4 L 1388.4,600 M 1362.4,616.4 L 1374.4,613.2 M 1368,626 L 1378,620 L 1382,612" fill="none" stroke="#222" stroke-width="2.30"/>
<path d="M 1338,628 L 1346.4,629.2 L 1343.2,635.2 Z" fill="#222" stroke="#222" stroke-width="1.80"/>
<path d="M 1362,631 L 1367,634 L 1365,638" fill="none" stroke="#222" stroke-width="2.70"/>
<path d="M 1344,638 C 1346,648 1354,656.4 1366.4,657.2 L 1374.4,652 M 1350,640 L 1352.4,650.4" fill="none" stroke="#222" stroke-width="1.90"/>
<path d="M 1334,678 L 1352,649.2" fill="none" stroke="#222" stroke-width="1.70"/>
<path d="M 1290,692 L 1300,658" fill="none" stroke="#222" stroke-width="1.70"/>
<path d="M 1250,678 L 1272,649" fill="none" stroke="#222" stroke-width="1.70"/>
<path d="M 1438,540 C 1445,560 1445,580 1440,598.4" fill="none" stroke="#222" stroke-width="1.90"/>
<path d="M 1390,596.4 C 1402,602.4 1420,604.4 1436.4,600" fill="none" stroke="#222" stroke-width="2.10"/>
<path d="M 1360,527.6 L 1396,587.6 M 1376,544 L 1390,570" fill="none" stroke="#222" stroke-width="1.70"/>
<path d="M 1388,598.4 L 1374,652 L 1346.4,724 C 1344,730.4 1350,735.2 1362,735.2 C 1370,735.2 1378,732 1384.4,726 L 1410,700" fill="none" stroke="#222" stroke-width="1.90"/>
<path d="M 1438,602.4 L 1431,630 L 1422.4,660 L 1413,672.4" fill="none" stroke="#222" stroke-width="1.90"/>
<path d="M 1408,634 L 1380,714" fill="none" stroke="#222" stroke-width="1.70"/>
<circle cx="1412" cy="626" r="1.5" fill="#222"/>
<circle cx="1422" cy="619" r="1.5" fill="#222"/>
<circle cx="1430" cy="610" r="1.5" fill="#222"/>
<ellipse cx="1426" cy="593.2" rx="4.8" ry="2.8" transform="rotate(-15 1426 593.2)" fill="none" stroke="#222" stroke-width="3.30"/>
<path d="M 1414,588 L 1414,593.2" fill="none" stroke="#222" stroke-width="2.30"/>
<path d="M 1437,605.2 C 1442,596 1452,588 1466,588 C 1476,590 1482,598 1480,606 C 1478,612 1470,616 1460,617.2 C 1450,617.2 1442,614 1437,609.2" fill="none" stroke="#222" stroke-width="2.10"/>
<path d="M 1450,592 C 1444,598 1443,606 1447,615.2 M 1456,590 C 1450,597 1449,608 1453,616.4" fill="none" stroke="#222" stroke-width="1.70"/>
<path d="M 1447,576 L 1450,580 L 1466,588 M 1445,576.4 L 1447,588 M 1448,581 L 1450,590" fill="none" stroke="#222" stroke-width="2.10"/>
<path d="M 1442,614 L 1458,619.2 L 1470,616 M 1466,610 L 1468,614.4" fill="none" stroke="#222" stroke-width="2.30"/>
<ellipse cx="1450" cy="628" rx="5.4" ry="6.2" transform="rotate(0 1450 628)" fill="none" stroke="#222" stroke-width="3.90"/>
<ellipse cx="1450" cy="628" rx="2.4" ry="2.8" transform="rotate(0 1450 628)" fill="none" stroke="#222" stroke-width="2.30"/>
<path d="M 1438,620.4 L 1446,622.4 M 1438,634 L 1447,635.2" fill="none" stroke="#222" stroke-width="1.90"/>
<path d="M 1514,583 L 1480,598" fill="none" stroke="#222" stroke-width="1.70"/>
<path d="M 1412,673 L 1418,670 L 1456,678 C 1454,688 1442,698 1430,698 C 1420,696 1413,686 1412,673" fill="none" stroke="#222" stroke-width="2.10"/>
<path d="M 1422,660 L 1426,666 L 1438,670 L 1450,672 L 1456,678" fill="none" stroke="#222" stroke-width="3.50"/>
<path d="M 1424,664.4 L 1430,668.4 M 1436,673.6 L 1437,678 M 1446,675.2 L 1446.8,679.6 M 1452,676.4 L 1452.4,680" fill="none" stroke="#222" stroke-width="2.50"/>
<path d="M 1420,678 C 1422,690 1426,696 1430,698 M 1426,680 C 1427,690 1430,695 1434,697.2" fill="none" stroke="#222" stroke-width="1.70"/>
<path d="M 1489,685 L 1454,685" fill="none" stroke="#222" stroke-width="2.30"/>
<path d="M 1412,688 L 1408,706 L 1402,710.4 L 1410,712.4 L 1422,704" fill="none" stroke="#222" stroke-width="1.90"/>
<path d="M 1472,714 L 1422,704" fill="none" stroke="#222" stroke-width="1.70"/>
<path d="M 1309.8,736.1 L 1352.5,702.4" fill="none" stroke="#222" stroke-width="1.90"/>
<path d="M 1309.8,736.1 C 1300.8,744 1289.5,764.2 1285,789 C 1283.9,795.8 1287.2,800.2 1294,802.5 L 1327.8,820.5 C 1332.2,821.9 1336.8,820.5 1341.2,817.4" fill="none" stroke="#222" stroke-width="1.90"/>
<path d="M 1341.2,817.4 L 1379.5,784.5 L 1445.9,732.8" fill="none" stroke="#222" stroke-width="2.70"/>
<path d="M 1445.9,732.8 C 1448.1,728.2 1447,721.5 1442.5,712.5 L 1435.8,703.5 M 1397.5,711.6 L 1422.7,704" fill="none" stroke="#222" stroke-width="1.90"/>
<path d="M 1314.2,737.7 L 1339,749.9 C 1350.2,755.2 1357,771 1358.1,789 C 1358.1,798 1354.8,807 1350.2,811.5 M 1297.4,757.5 C 1312,762 1330,773.2 1332.2,798 C 1332.2,807 1330,816 1328.9,820.5" fill="none" stroke="#222" stroke-width="1.80"/>
<path d="M 1411,795.8 L 1400.9,759.8" fill="none" stroke="#222" stroke-width="1.70"/>
<path d="M 1448.1,688.9 L 1548.2,920.6 M 1437.5,742.2 L 1513.4,921.8 C 1512.2,928.5 1519,934.4 1532.5,937.5 L 1542.6,946.5" fill="none" stroke="#222" stroke-width="1.90"/>
<ellipse cx="1551.6" cy="936.4" rx="10.1" ry="14.8" transform="rotate(25 1551.6 936.4)" fill="none" stroke="#222" stroke-width="2.30"/>
<ellipse cx="1550.5" cy="937" rx="5.8" ry="9.0" transform="rotate(25 1550.5 937)" fill="none" stroke="#222" stroke-width="2.30"/>
<ellipse cx="1550" cy="937.5" rx="2.7" ry="4.3" transform="rotate(25 1550 937.5)" fill="none" stroke="#222" stroke-width="1.80"/>
<path d="M 1515.6,919.5 C 1517.9,926.2 1523.5,930.8 1532.5,933 L 1541.5,929" fill="none" stroke="#222" stroke-width="1.70"/>
<path d="M 1526.9,784.5 L 1496.5,809.2" fill="none" stroke="#222" stroke-width="1.70"/>
<path d="M 1487.5,946.5 L 1513.4,928.5" fill="none" stroke="#222" stroke-width="1.70"/>
<path d="M 1487.5,946.5 L 1539.2,942" fill="none" stroke="#222" stroke-width="1.70"/>
<ellipse cx="1390.8" cy="884.6" rx="4.5" ry="7.6" transform="rotate(25 1390.8 884.6)" fill="none" stroke="#222" stroke-width="3.90"/>
<path d="M 1431.2,852 L 1395.2,881.2" fill="none" stroke="#222" stroke-width="1.70"/>
<path d="M 1357,863.2 L 1386.2,881.7" fill="none" stroke="#222" stroke-width="1.85" stroke-dasharray="4.2 3"/>
<path d="M 1397.5,888.5 L 1420,899.2 L 1451.5,879 L 1512.2,915" fill="none" stroke="#222" stroke-width="1.85" stroke-dasharray="4.2 3"/>
<path d="M 1539.2,947 L 1453.5,992.8" fill="none" stroke="#222" stroke-width="1.85" stroke-dasharray="4.2 3"/>
<path d="M 1316,820 L 1262.5,979.1 M 1345.3,815.5 L 1318.3,895.2 M 1378.4,786.8 L 1322.1,971.2" fill="none" stroke="#222" stroke-width="1.90"/>
<path d="M 1256.9,791.2 L 1283.9,811.5 M 1249,811.5 L 1277.1,826.4" fill="none" stroke="#222" stroke-width="1.90"/>
<ellipse cx="1280.5" cy="818.7" rx="4.7" ry="7.9" transform="rotate(20 1280.5 818.7)" fill="none" stroke="#222" stroke-width="1.90"/>
<ellipse cx="1246.8" cy="800.2" rx="5.4" ry="12.4" transform="rotate(20 1246.8 800.2)" fill="none" stroke="#222" stroke-width="3.30"/>
<circle cx="1280" cy="819.1" r="2" fill="#222"/>
<path d="M 1285,823.2 L 1309.8,835.1" fill="none" stroke="#222" stroke-width="1.85" stroke-dasharray="4.2 3"/>
<path d="M 1052.5,606.1 L 1091.9,614" fill="none" stroke="#222" stroke-width="1.70"/>
<path d="M 1163.9,588.1 C 1167.2,578 1178.5,570.1 1189.8,569 L 1198.8,570.1 C 1210,573.5 1219,582.5 1222.4,593.8 L 1225.8,612.9" fill="none" stroke="#222" stroke-width="1.90"/>
<path d="M 1163.9,588.1 L 1165,601.6" fill="none" stroke="#222" stroke-width="3.30"/>
<path d="M 1163.9,588.1 L 1174,593.8 C 1176.2,584.8 1185.2,578 1192,579.1 M 1189.8,582.5 C 1194.2,578 1201,580.2 1202.1,589.2 L 1198.8,596" fill="none" stroke="#222" stroke-width="1.90"/>
<path d="M 1195.4,601.6 L 1216.8,589.2 L 1222.4,593.8 M 1195.4,601.6 L 1196.5,614 L 1206.6,618.5 L 1225.8,612.9 M 1206.6,618.5 L 1205.5,606.1 L 1195.4,601.6 M 1205.5,606.1 L 1222.4,597.1" fill="none" stroke="#222" stroke-width="1.90"/>
<path d="M 1190.9,583.6 L 1191.5,591.5 M 1194.2,584.8 L 1194.7,593.8" fill="none" stroke="#222" stroke-width="2.70"/>
<ellipse cx="1213.4" cy="614" rx="3.1" ry="2.2" transform="rotate(0 1213.4 614)" fill="none" stroke="#222" stroke-width="3.70"/>
<path d="M 1172.9,602.8 L 1172.9,652.2" fill="none" stroke="#222" stroke-width="1.85" stroke-dasharray="4.2 3"/>
<path d="M 1213.4,619 L 1213.4,672.5" fill="none" stroke="#222" stroke-width="1.85" stroke-dasharray="4.2 3"/>
<path d="M 1172.9,654 L 1172.9,660.1" fill="none" stroke="#222" stroke-width="3.70"/>
<path d="M 1213.4,674.3 L 1213.4,680.4" fill="none" stroke="#222" stroke-width="3.70"/>
<path d="M 1178.5,698.4 L 1173.1,660.8" fill="none" stroke="#222" stroke-width="1.70"/>
<path d="M 1178.5,698.4 L 1212.2,680.8" fill="none" stroke="#222" stroke-width="1.70"/>
<path d="M 1234.8,641 L 1218.1,615.6" fill="none" stroke="#222" stroke-width="1.70"/>
<path d="M 1143.6,608.4 L 1163.9,597.1" fill="none" stroke="#222" stroke-width="1.85" stroke-dasharray="4.2 3"/>
<path d="M 1208.9,617.4 L 962.5,760.2" fill="none" stroke="#222" stroke-width="1.85" stroke-dasharray="4.2 3"/>
<path d="M 1071.6,651.1 L 938.9,728.3" fill="none" stroke="#222" stroke-width="1.85" stroke-dasharray="4.2 3"/>
<path d="M 1253.2,558.9 L 1248.2,565.9" fill="none" stroke="#222" stroke-width="2.30"/>
<path d="M 1253.9,677 L 1274.1,648.9" fill="none" stroke="#222" stroke-width="1.70"/>
<ellipse cx="974.9" cy="787.2" rx="5.0" ry="2.9" transform="rotate(-10 974.9 787.2)" fill="none" stroke="#222" stroke-width="2.90"/>
<path d="M 972.2,790 L 973.5,798 C 974.9,800.3 978.5,799.9 979.4,797.1 L 978,789.5" fill="none" stroke="#222" stroke-width="1.80"/>
<ellipse cx="1006.4" cy="804.1" rx="5.0" ry="2.9" transform="rotate(-10 1006.4 804.1)" fill="none" stroke="#222" stroke-width="2.90"/>
<path d="M 1003.7,806.8 L 1005,814.9 C 1006.4,817.2 1010,816.7 1010.9,814 L 1009.5,806.4" fill="none" stroke="#222" stroke-width="1.80"/>
<ellipse cx="1026.6" cy="741.1" rx="5.0" ry="2.9" transform="rotate(-10 1026.6 741.1)" fill="none" stroke="#222" stroke-width="2.90"/>
<path d="M 1023.9,743.8 L 1025.3,751.9 C 1026.6,754.2 1030.2,753.7 1031.1,751 L 1029.8,743.4" fill="none" stroke="#222" stroke-width="1.80"/>
<ellipse cx="1059.2" cy="759.1" rx="5.0" ry="2.9" transform="rotate(-10 1059.2 759.1)" fill="none" stroke="#222" stroke-width="2.90"/>
<path d="M 1056.5,761.8 L 1057.9,769.9 C 1059.2,772.2 1062.8,771.7 1063.8,769 L 1062.4,761.4" fill="none" stroke="#222" stroke-width="1.80"/>
<path d="M 1018.8,701.8 L 977.1,782.3" fill="none" stroke="#222" stroke-width="1.70"/>
<path d="M 1018.8,701.8 L 1007.5,799" fill="none" stroke="#222" stroke-width="1.70"/>
<path d="M 1018.8,701.8 L 1025.5,737.8" fill="none" stroke="#222" stroke-width="1.70"/>
<path d="M 1018.8,701.8 L 1058.1,755.8" fill="none" stroke="#222" stroke-width="1.70"/>
<path d="M 977.8,799.9 L 988.4,849.1" fill="none" stroke="#222" stroke-width="1.85" stroke-dasharray="4.2 3"/>
<path d="M 1009.8,817.6 L 1014.7,831.1" fill="none" stroke="#222" stroke-width="1.85" stroke-dasharray="4.2 3"/>
<path d="M 1029.5,754.9 L 1033.6,768.1" fill="none" stroke="#222" stroke-width="1.85" stroke-dasharray="4.2 3"/>
<path d="M 1063.3,772.6 L 1073.2,807.5" fill="none" stroke="#222" stroke-width="1.85" stroke-dasharray="4.2 3"/>
<path d="M 938.9,747.2 L 953.5,737.8 L 956.9,740 C 960.2,751.2 961.4,762.5 959.1,773.8 C 955.8,782.8 946.8,789.5 938.9,794.5" fill="none" stroke="#222" stroke-width="1.90"/>
<path d="M 1216.8,770.4 C 1221.2,768.1 1225.8,769.2 1228,771.5 L 1259.5,790.6 M 1208.9,785 C 1208.9,776 1214.5,770.4 1220.1,770.4 M 1213.4,786.1 C 1213.4,778.2 1217.9,772.6 1223.5,772" fill="none" stroke="#222" stroke-width="1.90"/>
<ellipse cx="1251.6" cy="799.6" rx="6.8" ry="12.4" transform="rotate(20 1251.6 799.6)" fill="none" stroke="#222" stroke-width="3.30"/>
<path d="M 1257.2,791.8 L 1286.5,812 M 1248.7,811.1 L 1275.7,826.8" fill="none" stroke="#222" stroke-width="1.90"/>
<ellipse cx="1280.9" cy="819.2" rx="4.7" ry="8.3" transform="rotate(20 1280.9 819.2)" fill="none" stroke="#222" stroke-width="1.90"/>
<circle cx="1280.7" cy="820.1" r="2" fill="#222"/>
<path d="M 1286.5,823.2 L 1301.1,829.3" fill="none" stroke="#222" stroke-width="1.85" stroke-dasharray="4.2 3"/>
<path d="M 1171.8,768.1 L 1210,778.2" fill="none" stroke="#222" stroke-width="1.70"/>
<path d="M 1282.7,190.9 C 1282,184.8 1291.6,179.9 1302.6,180.6 L 1312.2,183.7 L 1444.2,260.1 C 1452.5,265.2 1454.6,271.4 1452.5,276.2 C 1449.8,281 1440.1,282.4 1431.9,279.6 L 1291.6,199.9 C 1286.1,197.1 1282.7,194.4 1282.7,190.9 Z" fill="none" stroke="#222" stroke-width="2.10"/>
<path d="M 1289.6,196 C 1294.4,193 1302.6,194.4 1308.1,197.4 L 1438.8,273.4" fill="none" stroke="#222" stroke-width="1.70"/>
<path d="M 1282,190.9 L 1284.1,205.4 C 1285.4,209.5 1290.2,212.2 1295.8,215 L 1433.2,292 C 1441.5,295.4 1451.1,293.4 1453.9,286.5 L 1453.2,274.4" fill="none" stroke="#222" stroke-width="1.90"/>
<path d="M 1333.6,196 L 1334.2,215 M 1422.9,248 L 1422.9,265.9" fill="none" stroke="#222" stroke-width="2.70"/>
<path d="M 1339.8,239.1 C 1341.1,234.9 1345.9,234.2 1350.8,236.3 L 1361.8,242.5 C 1365.9,245.2 1367.2,249.4 1365.9,254.9 C 1364.5,258.3 1361.1,259 1356.9,256.9 L 1343.9,249.4 C 1339.8,246.6 1339.1,242.5 1339.8,239.1 Z" fill="none" stroke="#222" stroke-width="2.30"/>
<path d="M 1345.9,234.9 C 1348,232.9 1352.1,233.6 1356.2,235.6 L 1364.5,241.1 C 1368.6,243.9 1369.3,249.4 1367.9,254.9" fill="none" stroke="#222" stroke-width="1.70"/>
<path d="M 1348,248 C 1346.6,245.9 1348,243.9 1350.8,244.2" fill="none" stroke="#222" stroke-width="1.70"/>
<path d="M 1317.1,270 L 1345.2,251.4" fill="none" stroke="#222" stroke-width="1.70"/>
<path d="M 1187,1106.5 C 1178,1102 1160,1105 1155.5,1115.5 C 1154,1124.5 1158.5,1132 1166,1132 C 1175,1130.5 1182.5,1118.5 1187,1111 Z" fill="#0d0d0d" stroke="#0d0d0d" stroke-width="1.80"/>
<path d="M 1187,1106.5 C 1197.5,1099 1212.5,1096 1218.5,1105 C 1220,1114 1212.5,1120 1202,1118.5 C 1196,1117 1190,1112.5 1187,1111 Z" fill="#0d0d0d" stroke="#0d0d0d" stroke-width="1.80"/>
<path d="M 1162.3,1120.8 L 1174.3,1115.5 L 1175,1117.2 L 1163.8,1122.4 Z" fill="#fff" stroke="#fff" stroke-width="0.80"/>
<path d="M 1199,1110.3 C 1202,1108 1208,1107.3 1211,1108.8 C 1208,1111.8 1202,1112.5 1199,1110.3 Z" fill="#fff" stroke="#fff" stroke-width="0.80"/>
<path d="M 1182.5,1100.5 L 1190,1108 M 1174.3,1103.5 L 1178,1106.5" fill="none" stroke="#222" stroke-width="2.90"/>
<path d="M 1146.5,1134.3 L 1154.8,1129.8 L 1159.3,1134.3 L 1151.8,1138.8 Z" fill="#111" stroke="#222" stroke-width="1.80"/>
<path d="M 1160,1127.5 L 1156.3,1132.8" fill="none" stroke="#111" stroke-width="5.30"/>
<path d="M 1215.5,1093.8 L 1225.3,1086.3 L 1233.5,1091.5 L 1229.8,1097.5 L 1220,1099 Z" fill="#111" stroke="#222" stroke-width="1.80"/>
<path d="M 1214.8,1102 L 1219.3,1096" fill="none" stroke="#111" stroke-width="5.30"/>
<path d="M 1149.5,1133.9 L 1152.5,1132.4 M 1222.3,1093 L 1227.5,1090" fill="none" stroke="#ddd" stroke-width="1.90"/>
<path d="M 1175,1069.8 L 1184,1103.5" fill="none" stroke="#222" stroke-width="1.70"/>
<path d="M 1340,1109.5 C 1331,1105 1313,1108 1308.5,1118.5 C 1307,1127.5 1311.5,1135 1319,1135 C 1328,1133.5 1335.5,1121.5 1340,1114 Z" fill="#0d0d0d" stroke="#0d0d0d" stroke-width="1.80"/>
<path d="M 1340,1109.5 C 1350.5,1102 1365.5,1099 1371.5,1108 C 1373,1117 1365.5,1123 1355,1121.5 C 1349,1120 1343,1115.5 1340,1114 Z" fill="#0d0d0d" stroke="#0d0d0d" stroke-width="1.80"/>
<path d="M 1315.3,1123.8 L 1327.3,1118.5 L 1328,1120.2 L 1316.8,1125.4 Z" fill="#fff" stroke="#fff" stroke-width="0.80"/>
<path d="M 1352,1113.3 C 1355,1111 1361,1110.3 1364,1111.8 C 1361,1114.8 1355,1115.5 1352,1113.3 Z" fill="#fff" stroke="#fff" stroke-width="0.80"/>
<path d="M 1335.5,1103.5 L 1343,1111 M 1327.3,1106.5 L 1331,1109.5" fill="none" stroke="#222" stroke-width="2.90"/>
<path d="M 1299.5,1137.3 L 1307.8,1132.8 L 1312.3,1137.3 L 1304.8,1141.8 Z" fill="#111" stroke="#222" stroke-width="1.80"/>
<path d="M 1313,1130.5 L 1309.3,1135.8" fill="none" stroke="#111" stroke-width="5.30"/>
<path d="M 1368.5,1096.8 L 1378.3,1089.3 L 1386.5,1094.5 L 1382.8,1100.5 L 1373,1102 Z" fill="#111" stroke="#222" stroke-width="1.80"/>
<path d="M 1367.8,1105 L 1372.3,1099" fill="none" stroke="#111" stroke-width="5.30"/>
<path d="M 1302.5,1136.9 L 1305.5,1135.4 M 1375.3,1096 L 1380.5,1093" fill="none" stroke="#ddd" stroke-width="1.90"/>
<path d="M 1328,1072.8 L 1337,1106.5" fill="none" stroke="#222" stroke-width="1.70"/>
<ellipse cx="1478.1" cy="1009.5" rx="8.2" ry="12.0" transform="rotate(15 1478.1 1009.5)" fill="none" stroke="#222" stroke-width="2.10"/>
<circle cx="1478.1" cy="1010.2" r="2" fill="#222"/>
<ellipse cx="1506.5" cy="1025.6" rx="10.6" ry="15.4" transform="rotate(15 1506.5 1025.6)" fill="none" stroke="#222" stroke-width="2.90"/>
<ellipse cx="1507.5" cy="1026.7" rx="2.7" ry="4.8" transform="rotate(15 1507.5 1026.7)" fill="#222" stroke="#222" stroke-width="1.30"/>
<ellipse cx="1539" cy="1043.8" rx="2.7" ry="4.4" transform="rotate(15 1539 1043.8)" fill="none" stroke="#222" stroke-width="2.30"/>
<path d="M 1530.5,1036.9 L 1538,1039.7 M 1529.4,1043.1 L 1536.3,1047.2" fill="none" stroke="#222" stroke-width="1.80"/>
<path d="M 1453.5,993.1 L 1468.9,1003.4" fill="none" stroke="#222" stroke-width="1.85" stroke-dasharray="4.2 3"/>
<path d="M 1486.7,1013.7 L 1496.2,1019.1" fill="none" stroke="#222" stroke-width="1.85" stroke-dasharray="4.2 3"/>
<path d="M 1517.1,1032.8 L 1530.5,1039.3" fill="none" stroke="#222" stroke-width="1.85" stroke-dasharray="4.2 3"/>
<path d="M 1474,1051.3 L 1476.7,1021.2" fill="none" stroke="#222" stroke-width="1.70"/>
<path d="M 1506.5,1071.8 L 1506.5,1041.7" fill="none" stroke="#222" stroke-width="1.70"/>
<path d="M 1542.4,1082.1 L 1539,1049.2" fill="none" stroke="#222" stroke-width="1.70"/>
<path d="M 1264.6,970.1 L 1223.2,1009.2 C 1221.7,1013.7 1223.2,1018.1 1227.6,1021.1 L 1252.7,1037.3 C 1261.6,1041 1270.5,1038.8 1276.4,1032.9 L 1344.3,970.8 C 1349.5,966.4 1351,960.5 1347.3,956.8 L 1339.9,953.1 L 1332.5,935.4 L 1323.7,965.6" fill="none" stroke="#222" stroke-width="1.90"/>
<path d="M 1270.5,1012.2 C 1276.4,1010.7 1282.3,1007.8 1288.2,1003.3 L 1319.2,973.8 L 1338.4,954.6 M 1270.5,1012.2 L 1266,1016.6" fill="none" stroke="#222" stroke-width="1.80"/>
<path d="M 1305.9,935.4 L 1284.5,997.4 M 1317.8,895.5 L 1331.1,859.3" fill="none" stroke="#222" stroke-width="1.70"/>
<path d="M 1233.5,1021.1 L 1263.1,972.3 M 1246.8,1028.4 L 1277.1,978.2" fill="none" stroke="#333" stroke-width="4.50"/>
<path d="M 1263.1,972.3 L 1258.7,1004.8 L 1246.8,1028.4 M 1277.1,978.2 L 1272,1001.8 L 1270.5,1011.4" fill="none" stroke="#222" stroke-width="1.70"/>
<ellipse cx="1305.2" cy="971.6" rx="3.0" ry="8.3" transform="rotate(50 1305.2 971.6)" fill="none" stroke="#222" stroke-width="2.50"/>
<circle cx="1326.6" cy="975.2" r="2.8" fill="#222"/>
<circle cx="1275.2" cy="1020.3" r="2.8" fill="#222"/>
<ellipse cx="1277.1" cy="883.6" rx="5.0" ry="3.1" transform="rotate(-10 1277.1 883.6)" fill="none" stroke="#222" stroke-width="3.10"/>
<path d="M 1274.8,886.6 L 1276.5,895.5 C 1278,897.2 1281.6,896.6 1282.4,894.3 L 1280.7,886" fill="none" stroke="#222" stroke-width="1.80"/>
<ellipse cx="1308.9" cy="902.8" rx="5.0" ry="3.1" transform="rotate(-10 1308.9 902.8)" fill="none" stroke="#222" stroke-width="3.10"/>
<path d="M 1306.5,905.8 L 1308.3,914.7 C 1309.8,916.4 1313.3,915.9 1314.2,913.5 L 1312.4,905.2" fill="none" stroke="#222" stroke-width="1.80"/>
<ellipse cx="1223.9" cy="929.4" rx="5.0" ry="3.1" transform="rotate(-10 1223.9 929.4)" fill="none" stroke="#222" stroke-width="3.10"/>
<path d="M 1221.6,932.4 L 1223.3,941.3 C 1224.8,943 1228.4,942.4 1229.2,940.1 L 1227.5,931.8" fill="none" stroke="#222" stroke-width="1.80"/>
<ellipse cx="1256.4" cy="948.7" rx="5.0" ry="3.1" transform="rotate(-10 1256.4 948.7)" fill="none" stroke="#222" stroke-width="3.10"/>
<path d="M 1254.1,951.6 L 1255.8,960.5 C 1257.3,962.2 1260.9,961.7 1261.8,959.3 L 1260,951" fill="none" stroke="#222" stroke-width="1.80"/>
<path d="M 1212.8,902.8 L 1272,884.5" fill="none" stroke="#222" stroke-width="1.70"/>
<path d="M 1212.8,902.8 L 1303.7,901.7" fill="none" stroke="#222" stroke-width="1.70"/>
<path d="M 1212.8,902.8 L 1221,925.8" fill="none" stroke="#222" stroke-width="1.70"/>
<path d="M 1212.8,902.8 L 1252.7,946" fill="none" stroke="#222" stroke-width="1.70"/>
<path d="M 1280.8,897.7 L 1284.1,909.5" fill="none" stroke="#222" stroke-width="1.85" stroke-dasharray="4.2 3"/>
<path d="M 1312.6,917.9 L 1324.4,969.3" fill="none" stroke="#222" stroke-width="1.85" stroke-dasharray="4.2 3"/>
<path d="M 1227.9,943.5 L 1242.4,1002.1" fill="none" stroke="#222" stroke-width="1.85" stroke-dasharray="4.2 3"/>
<path d="M 1260.4,962.7 L 1264.6,972.3" fill="none" stroke="#222" stroke-width="1.85" stroke-dasharray="4.2 3"/>
<path d="M 468.7,343.1 L 569.2,579.4 C 568,586.5 572.8,591.2 579.9,595 L 598.9,606.9 M 502.5,343.1 L 606,578.2" fill="none" stroke="#222" stroke-width="1.90"/>
<ellipse cx="607.2" cy="593.6" rx="9.0" ry="14.7" transform="rotate(25 607.2 593.6)" fill="none" stroke="#222" stroke-width="2.30"/>
<ellipse cx="605.5" cy="595.5" rx="5.7" ry="10.0" transform="rotate(25 605.5 595.5)" fill="none" stroke="#222" stroke-width="2.10"/>
<path d="M 477.8,446.4 L 518.1,436.9" fill="none" stroke="#222" stroke-width="1.70"/>
<path d="M 422.6,486.8 L 431.4,491.5" fill="none" stroke="#222" stroke-width="4.30"/>
<ellipse cx="432.1" cy="492" rx="1.2" ry="2.1" transform="rotate(25 432.1 492)" fill="none" stroke="#222" stroke-width="1.70"/>
<path d="M 385.1,499.8 L 420.8,489.1" fill="none" stroke="#222" stroke-width="1.70"/>
<path d="M 434.3,493.9 L 456.4,506.2" fill="none" stroke="#222" stroke-width="1.85" stroke-dasharray="4.2 3"/>
<ellipse cx="465.9" cy="512.9" rx="9.7" ry="14.2" transform="rotate(25 465.9 512.9)" fill="none" stroke="#222" stroke-width="3.90"/>
<ellipse cx="465.9" cy="513.4" rx="4.5" ry="6.7" transform="rotate(25 465.9 513.4)" fill="#333" stroke="#222" stroke-width="1.30"/>
<path d="M 421.9,534.2 L 457.6,522.9" fill="none" stroke="#222" stroke-width="1.70"/>
<path d="M 476.6,520 L 492,528.5" fill="none" stroke="#222" stroke-width="1.85" stroke-dasharray="4.2 3"/>
<ellipse cx="500.3" cy="533.1" rx="7.6" ry="10.7" transform="rotate(25 500.3 533.1)" fill="none" stroke="#222" stroke-width="2.10"/>
<circle cx="500.6" cy="533.5" r="1.8" fill="#222"/>
<path d="M 459.9,553.2 L 493.2,539.5" fill="none" stroke="#222" stroke-width="1.70"/>
<path d="M 509.1,539 L 527.6,549.7" fill="none" stroke="#222" stroke-width="1.85" stroke-dasharray="4.2 3"/>
<ellipse cx="535.2" cy="553.2" rx="8.1" ry="13.8" transform="rotate(20 535.2 553.2)" fill="none" stroke="#222" stroke-width="5.80"/>
<ellipse cx="540.7" cy="555.6" rx="7.1" ry="11.9" transform="rotate(20 540.7 555.6)" fill="none" stroke="#222" stroke-width="3.30"/>
<ellipse cx="547.8" cy="558.5" rx="6.4" ry="10.0" transform="rotate(20 547.8 558.5)" fill="none" stroke="#222" stroke-width="2.90"/>
<ellipse cx="548.5" cy="559.2" rx="3.3" ry="5.2" transform="rotate(20 548.5 559.2)" fill="none" stroke="#222" stroke-width="1.90"/>
<path d="M 495.6,580.6 L 527.6,565.1" fill="none" stroke="#222" stroke-width="1.70"/>
<path d="M 556.1,565.1 L 569.2,572.2" fill="none" stroke="#222" stroke-width="1.85" stroke-dasharray="4.2 3"/>
<ellipse cx="635.7" cy="613.8" rx="5.7" ry="10.5" transform="rotate(20 635.7 613.8)" fill="none" stroke="#222" stroke-width="5.80"/>
<ellipse cx="640.4" cy="615.5" rx="5.2" ry="10.0" transform="rotate(20 640.4 615.5)" fill="none" stroke="#222" stroke-width="2.90"/>
<ellipse cx="649.9" cy="618.8" rx="9.3" ry="14.2" transform="rotate(20 649.9 618.8)" fill="none" stroke="#222" stroke-width="2.30"/>
<ellipse cx="648.8" cy="619.8" rx="3.6" ry="5.5" transform="rotate(20 648.8 619.8)" fill="none" stroke="#222" stroke-width="1.90"/>
<path d="M 670.1,574.6 L 653.5,606.9" fill="none" stroke="#222" stroke-width="1.70"/>
<path d="M 615.5,603.1 L 630.9,610.7" fill="none" stroke="#222" stroke-width="1.85" stroke-dasharray="4.2 3"/>
<path d="M 659.4,625.7 L 670.6,632.1 L 735.9,597.9" fill="none" stroke="#222" stroke-width="1.85" stroke-dasharray="4.2 3"/>
<path d="M 540.7,610.2 L 533.6,635.2" fill="none" stroke="#222" stroke-width="1.70"/>
<path d="M 202.4,757.3 L 209.8,741 C 210.6,738.6 213,736.9 216.3,735.3 L 370.6,663 C 386.9,656.5 419.4,659.8 440.5,671.1 C 448.6,676 452.7,684.1 452.7,692.3" fill="none" stroke="#222" stroke-width="2.10"/>
<path d="M 208.1,755.6 L 215.4,742.6 C 216.3,740.2 218.7,739.1 221.1,737.8 L 372.3,666.3 C 386.9,660.6 417.8,663.8 437.3,674.4 C 443.8,678.4 447,684.9 447,692.3" fill="none" stroke="#222" stroke-width="1.90"/>
<path d="M 202.4,757.3 L 204.9,759.2 L 208.1,756" fill="none" stroke="#222" stroke-width="1.90"/>
<path d="M 226.8,738.6 C 227.6,736.1 230.1,734.5 232.5,733.2 L 375.5,682.5 C 383.6,679.3 395,679.3 404.8,681.7 L 427.5,697.1" fill="none" stroke="#222" stroke-width="1.80"/>
<path d="M 268.3,771.1 C 269.9,767 273.1,763.8 278,762.1 L 427.5,698.8 C 435.6,695.5 442.1,693.9 447,692.6" fill="none" stroke="#222" stroke-width="2.10"/>
<path d="M 209.8,747.5 L 257.7,791.4 L 262.6,797.1 L 268.3,794.6 L 440.5,727.2 C 448.6,723.9 452.7,719.9 452.7,713.4 L 452.7,692.3" fill="none" stroke="#222" stroke-width="2.10"/>
<path d="M 257.7,791.4 L 271.5,767 C 273.1,763.8 276.4,762.1 279.6,760.8 M 262.6,797.1 L 276.4,769.4" fill="none" stroke="#222" stroke-width="1.90"/>
<path d="M 224.4,743 C 226,747.8 240.6,760.8 268.3,771.1 M 235.8,754 C 242.3,751.6 248.8,752.4 253.6,754.3" fill="none" stroke="#222" stroke-width="1.80"/>
<path d="M 235.3,735 L 278,762.1" fill="none" stroke="#2a2a2a" stroke-width="2.90"/>
<path d="M 240.1,734 L 282.9,760.8" fill="none" stroke="#555" stroke-width="1.40"/>
<path d="M 246.3,730.9 L 289.5,757.3" fill="none" stroke="#2a2a2a" stroke-width="2.90"/>
<path d="M 251.2,730 L 294.4,756" fill="none" stroke="#555" stroke-width="1.40"/>
<path d="M 257.4,727 L 301.1,752.4" fill="none" stroke="#2a2a2a" stroke-width="2.90"/>
<path d="M 262.2,726.1 L 306,751.1" fill="none" stroke="#555" stroke-width="1.40"/>
<path d="M 268.3,723.1 L 312.5,747.5" fill="none" stroke="#2a2a2a" stroke-width="2.90"/>
<path d="M 273.1,722.2 L 317.3,746.2" fill="none" stroke="#555" stroke-width="1.40"/>
<path d="M 279.3,719.1 L 324,742.6" fill="none" stroke="#2a2a2a" stroke-width="2.90"/>
<path d="M 284.2,718.1 L 328.9,741.3" fill="none" stroke="#555" stroke-width="1.40"/>
<path d="M 290.4,715.2 L 335.5,737.8" fill="none" stroke="#2a2a2a" stroke-width="2.90"/>
<path d="M 295.2,714.2 L 340.4,736.5" fill="none" stroke="#555" stroke-width="1.40"/>
<path d="M 301.4,711.3 L 347.1,732.9" fill="none" stroke="#2a2a2a" stroke-width="2.90"/>
<path d="M 306.3,710.3 L 351.9,731.6" fill="none" stroke="#555" stroke-width="1.40"/>
<path d="M 312.5,707.2 L 358.4,728" fill="none" stroke="#2a2a2a" stroke-width="2.90"/>
<path d="M 317.3,706.2 L 363.3,726.7" fill="none" stroke="#555" stroke-width="1.40"/>
<path d="M 323.5,703.3 L 370,723.1" fill="none" stroke="#2a2a2a" stroke-width="2.90"/>
<path d="M 328.4,702.3 L 374.9,721.8" fill="none" stroke="#555" stroke-width="1.40"/>
<path d="M 334.6,699.2 L 381.5,718.3" fill="none" stroke="#2a2a2a" stroke-width="2.90"/>
<path d="M 339.4,698.3 L 386.4,717" fill="none" stroke="#555" stroke-width="1.40"/>
<path d="M 345.6,695.3 L 393.1,713.4" fill="none" stroke="#2a2a2a" stroke-width="2.90"/>
<path d="M 350.5,694.4 L 397.9,712.1" fill="none" stroke="#555" stroke-width="1.40"/>
<path d="M 356.5,691.4 L 404.4,708.5" fill="none" stroke="#2a2a2a" stroke-width="2.90"/>
<path d="M 361.4,690.5 L 409.3,707.2" fill="none" stroke="#555" stroke-width="1.40"/>
<path d="M 367.5,687.4 L 416,703.6" fill="none" stroke="#2a2a2a" stroke-width="2.90"/>
<path d="M 372.4,686.4 L 420.8,702.3" fill="none" stroke="#555" stroke-width="1.40"/>
<path d="M 378.6,683.5 L 427.5,698.8" fill="none" stroke="#2a2a2a" stroke-width="2.90"/>
<path d="M 383.5,682.5 L 432.4,697.5" fill="none" stroke="#555" stroke-width="1.40"/>
<path d="M 380.4,680.9 L 425.9,697.1 M 386.9,680.1 L 427.5,694.7" fill="none" stroke="#222" stroke-width="1.90"/>
<path d="M 289.2,662.9 L 302.3,697.4" fill="none" stroke="#222" stroke-width="1.70"/>
<path d="M 372,784 L 420,766 L 783,630.3" fill="none" stroke="#222" stroke-width="1.90"/>
<path d="M 388,803 L 420,791 L 811.5,643.8" fill="none" stroke="#222" stroke-width="1.90"/>
<path d="M 395,817 L 420,807.5 L 813,661.8" fill="none" stroke="#222" stroke-width="1.90"/>
<path d="M 760.5,614.8 C 759.6,610.9 763.5,608.5 768,609.4 L 789,620.5 M 762.9,619.9 L 783.3,630.4" fill="none" stroke="#222" stroke-width="1.90"/>
<path d="M 789,620.5 C 790.5,618.2 795,617.5 799.5,618.4 L 829.5,634.9 M 787.5,626.8 L 811.8,644.2 M 811.5,643.8 C 810,650.5 811.5,658 816.3,662.8 L 819.6,663.4" fill="none" stroke="#222" stroke-width="1.90"/>
<ellipse cx="824.2" cy="649.8" rx="9.0" ry="14.2" transform="rotate(25 824.2 649.8)" fill="none" stroke="#222" stroke-width="3.90"/>
<ellipse cx="823.8" cy="650.2" rx="6.0" ry="9.8" transform="rotate(25 823.8 650.2)" fill="none" stroke="#222" stroke-width="2.70"/>
<ellipse cx="823.8" cy="650.2" rx="2.9" ry="4.5" transform="rotate(25 823.8 650.2)" fill="none" stroke="#222" stroke-width="2.10"/>
<circle cx="824.1" cy="650.5" r="2" fill="#222"/>
<ellipse cx="742.5" cy="603.2" rx="4.8" ry="8.2" transform="rotate(20 742.5 603.2)" fill="none" stroke="#222" stroke-width="4.30"/>
<path d="M 741.8,579.2 L 742.2,594.4" fill="none" stroke="#222" stroke-width="1.70"/>
<path d="M 749.4,607.3 L 759.9,612.4" fill="none" stroke="#222" stroke-width="1.85" stroke-dasharray="4.2 3"/>
<ellipse cx="858.8" cy="670" rx="9.0" ry="13.5" transform="rotate(25 858.8 670)" fill="none" stroke="#222" stroke-width="2.30"/>
<ellipse cx="859.2" cy="670.3" rx="2.1" ry="3.3" transform="rotate(25 859.2 670.3)" fill="#222" stroke="#222" stroke-width="1.30"/>
<path d="M 900.8,639.7 L 869.2,662.5" fill="none" stroke="#222" stroke-width="1.70"/>
<path d="M 833.4,655.9 L 849.8,664.9" fill="none" stroke="#222" stroke-width="1.85" stroke-dasharray="4.2 3"/>
<path d="M 868.8,675.4 L 889.5,686.8" fill="none" stroke="#222" stroke-width="1.85" stroke-dasharray="4.2 3"/>
<ellipse cx="896.7" cy="691.8" rx="2.7" ry="4.5" transform="rotate(25 896.7 691.8)" fill="none" stroke="#222" stroke-width="2.50"/>
<path d="M 890.2,685.8 L 895.8,687.7 M 889.2,689.5 L 894,694" fill="none" stroke="#222" stroke-width="1.90"/>
<path d="M 733.5,694 L 753,706.8 L 741,745.8 L 719.2,733 Z" fill="none" stroke="#222" stroke-width="2.70"/>
<path d="M 728.2,712 L 748.8,724.9 M 724.5,721.8 L 744.9,735.4" fill="none" stroke="#222" stroke-width="1.80"/>
<ellipse cx="735" cy="700" rx="2.1" ry="3.3" transform="rotate(20 735 700)" fill="none" stroke="#222" stroke-width="2.50"/>
<circle cx="747" cy="709" r="2.6" fill="#222"/>
<circle cx="738.8" cy="712.3" r="2" fill="#222"/>
<circle cx="729.8" cy="732.4" r="3" fill="#222"/>
<path d="M 780,693.1 L 790.5,689.5 M 780.6,698.2 L 791.1,694.6" fill="none" stroke="#222" stroke-width="1.90"/>
<ellipse cx="780" cy="695.8" rx="1.5" ry="2.7" transform="rotate(10 780 695.8)" fill="none" stroke="#222" stroke-width="1.80"/>
<ellipse cx="793.5" cy="691.3" rx="3.0" ry="4.8" transform="rotate(10 793.5 691.3)" fill="none" stroke="#222" stroke-width="5.30"/>
<path d="M 792,699.7 L 804.8,696.7 M 792.6,704.8 L 805.4,701.8" fill="none" stroke="#222" stroke-width="1.90"/>
<ellipse cx="792" cy="702.4" rx="1.5" ry="2.7" transform="rotate(10 792 702.4)" fill="none" stroke="#222" stroke-width="1.80"/>
<ellipse cx="807.8" cy="698.5" rx="3.0" ry="4.8" transform="rotate(10 807.8 698.5)" fill="none" stroke="#222" stroke-width="5.30"/>
<path d="M 776.2,722.2 L 789,720.1 M 776.9,727.3 L 789.6,725.2" fill="none" stroke="#222" stroke-width="1.90"/>
<ellipse cx="776.2" cy="724.9" rx="1.5" ry="2.7" transform="rotate(10 776.2 724.9)" fill="none" stroke="#222" stroke-width="1.80"/>
<ellipse cx="792" cy="721.9" rx="3.0" ry="4.8" transform="rotate(10 792 721.9)" fill="none" stroke="#222" stroke-width="5.30"/>
<path d="M 837.8,700 L 795.9,691.9" fill="none" stroke="#222" stroke-width="1.70"/>
<path d="M 837.8,700 L 811.5,698.5" fill="none" stroke="#222" stroke-width="1.70"/>
<path d="M 837.8,700 L 795.9,719.5" fill="none" stroke="#222" stroke-width="1.70"/>
<path d="M 750,700 L 778.8,696.4" fill="none" stroke="#222" stroke-width="1.85" stroke-dasharray="4.2 3"/>
<path d="M 756,708.4 L 790.8,702.4" fill="none" stroke="#222" stroke-width="1.85" stroke-dasharray="4.2 3"/>
<path d="M 750,728.5 L 775.2,724.9" fill="none" stroke="#222" stroke-width="1.85" stroke-dasharray="4.2 3"/>
<path d="M 732,700 L 659.2,720.4" fill="none" stroke="#222" stroke-width="1.85" stroke-dasharray="4.2 3"/>
<path d="M 720,713.5 L 659.2,722.8" fill="none" stroke="#222" stroke-width="1.85" stroke-dasharray="4.2 3"/>
<path d="M 717,735.4 L 659.2,743.8" fill="none" stroke="#222" stroke-width="1.85" stroke-dasharray="4.2 3"/>
<path d="M 774,747.2 L 748.5,730" fill="none" stroke="#222" stroke-width="1.70"/>
<path d="M 659.2,719.2 L 700.5,740.5 L 756,772.8" fill="none" stroke="#222" stroke-width="1.85" stroke-dasharray="4.2 3"/>
<path d="M 935.5,672 L 901,692" fill="none" stroke="#222" stroke-width="1.70"/>
<path d="M 258,826.5 L 331,799.5 M 294,838.4 L 362,812.8 M 298,852.8 L 366,827.5" fill="none" stroke="#222" stroke-width="1.90"/>
<path d="M 331,798 C 330,792 333,788 338,787 L 352,783 L 406,813 C 409,815 409,819 405,821 L 404,818" fill="none" stroke="#222" stroke-width="1.90"/>
<path d="M 338,787 L 392.4,817.6 L 406,813 M 331,798 L 364,815 L 365,826 L 383,833 L 384,823.2 L 392.4,817.6 M 364,815 L 384,823.2" fill="none" stroke="#222" stroke-width="1.90"/>
<path d="M 345,783.6 L 345,787 M 397,812.4 L 397,816" fill="none" stroke="#222" stroke-width="2.30"/>
<path d="M 222,837 C 221,832 224,828 229,827 L 246,823 L 298,853 C 300,856 299,860 296,862 L 295.6,858" fill="none" stroke="#222" stroke-width="1.90"/>
<path d="M 222,837 L 225,840.4 L 279,864.4 L 280,860 L 296.4,854.8 M 246,823 L 246.4,826" fill="none" stroke="#222" stroke-width="1.90"/>
<path d="M 225.6,840.4 L 224.4,898 L 251,913 L 257,910 L 288,861 M 253,854 L 251,913" fill="none" stroke="#222" stroke-width="2.10"/>
<path d="M 230,837 L 255,850" fill="none" stroke="#222" stroke-width="3.90"/>
<path d="M 280,864.4 L 258,909" fill="none" stroke="#222" stroke-width="3.30"/>
<path d="M 276,869 L 259.6,900 M 260,856 L 276,863 M 256,880 L 268,885" fill="none" stroke="#222" stroke-width="1.70"/>
<ellipse cx="225" cy="869" rx="2.6" ry="3.0" transform="rotate(0 225 869)" fill="none" stroke="#222" stroke-width="4.30"/>
<ellipse cx="237" cy="876" rx="2.6" ry="3.0" transform="rotate(0 237 876)" fill="none" stroke="#222" stroke-width="4.30"/>
<ellipse cx="242.4" cy="874.4" rx="2.2" ry="2.6" transform="rotate(0 242.4 874.4)" fill="none" stroke="#222" stroke-width="2.30"/>
<circle cx="237" cy="893" r="2.4" fill="#222"/>
<path d="M 242,780 L 236,828" fill="none" stroke="#222" stroke-width="1.85" stroke-dasharray="4.2 3"/>
<path d="M 294,790 L 286,856" fill="none" stroke="#222" stroke-width="1.85" stroke-dasharray="4.2 3"/>
<path d="M 347,772 L 345,782.4" fill="none" stroke="#222" stroke-width="1.85" stroke-dasharray="4.2 3"/>
<path d="M 401,760 L 397,812" fill="none" stroke="#222" stroke-width="1.85" stroke-dasharray="4.2 3"/>
<path d="M 286,864 L 269,980" fill="none" stroke="#222" stroke-width="1.85" stroke-dasharray="4.2 3"/>
<path d="M 225,900 L 218,957" fill="none" stroke="#222" stroke-width="1.85" stroke-dasharray="4.2 3"/>
<path d="M 237,898 L 237,988" fill="none" stroke="#222" stroke-width="1.85" stroke-dasharray="4.2 3"/>
<path d="M 337,842 L 331,891" fill="none" stroke="#222" stroke-width="1.85" stroke-dasharray="4.2 3"/>
<path d="M 392,820 L 380,921" fill="none" stroke="#222" stroke-width="1.85" stroke-dasharray="4.2 3"/>
<path d="M 199,798.4 L 235,826" fill="none" stroke="#222" stroke-width="1.85" stroke-dasharray="4.2 3"/>
<path d="M 199,850.4 L 223.6,868" fill="none" stroke="#222" stroke-width="1.85" stroke-dasharray="4.2 3"/>
<path d="M 199,888 L 225.6,872.4" fill="none" stroke="#222" stroke-width="1.85" stroke-dasharray="4.2 3"/>
<path d="M 199,912.4 L 224.4,898.4" fill="none" stroke="#222" stroke-width="1.85" stroke-dasharray="4.2 3"/>
<path d="M 298,856 L 370,896" fill="none" stroke="#222" stroke-width="1.85" stroke-dasharray="4.2 3"/>
<path d="M 254,880 L 318,919" fill="none" stroke="#222" stroke-width="1.85" stroke-dasharray="4.2 3"/>
<path d="M 258,890 L 296,912" fill="none" stroke="#222" stroke-width="1.85" stroke-dasharray="4.2 3"/>
<path d="M 320,920 L 340,937 L 368,948" fill="none" stroke="#222" stroke-width="1.85" stroke-dasharray="4.2 3"/>
<path d="M 376,898 L 421.6,925.6" fill="none" stroke="#222" stroke-width="1.85" stroke-dasharray="4.2 3"/>
<path d="M 340,938.4 L 388,967" fill="none" stroke="#222" stroke-width="1.85" stroke-dasharray="4.2 3"/>
<path d="M 330,888 L 330,894" fill="none" stroke="#222" stroke-width="2.90"/>
<circle cx="330" cy="894.6" r="2.6" fill="#222"/>
<path d="M 380,917 L 380,923" fill="none" stroke="#222" stroke-width="2.90"/>
<circle cx="380" cy="923.6" r="2.6" fill="#222"/>
<path d="M 269,981 L 269,987" fill="none" stroke="#222" stroke-width="2.90"/>
<circle cx="269" cy="987.6" r="2.6" fill="#222"/>
<path d="M 218,952 L 218,958" fill="none" stroke="#222" stroke-width="2.90"/>
<circle cx="218" cy="958.6" r="2.6" fill="#222"/>
<path d="M 368,852 L 332.4,889" fill="none" stroke="#222" stroke-width="1.70"/>
<path d="M 418,881 L 382.4,919.6" fill="none" stroke="#222" stroke-width="1.70"/>
<path d="M 229,998 L 219,960.4" fill="none" stroke="#222" stroke-width="1.70"/>
<path d="M 229,998 L 267,988.4" fill="none" stroke="#222" stroke-width="1.70"/>
<path d="M 294,904 C 296,898 304,895 314,892 L 331,904 L 330,940 C 331,945 336,948 342,947 L 338,957 L 318,960 C 304,958 292,950 291,940 C 290,928 292,912 294,904" fill="none" stroke="#222" stroke-width="1.90"/>
<path d="M 309,912 C 308,924 309,940 312,957 M 294,904 L 309,912 L 331,904" fill="none" stroke="#222" stroke-width="1.80"/>
<path d="M 331,909 L 372,893.6 L 375,898 L 344,947" fill="none" stroke="#222" stroke-width="2.10"/>
<path d="M 331,904.4 L 371.6,892" fill="none" stroke="#222" stroke-width="3.50"/>
<ellipse cx="318" cy="919" rx="1.8" ry="1.8" transform="rotate(0 318 919)" fill="none" stroke="#222" stroke-width="1.80"/>
<circle cx="338" cy="938" r="3" fill="#222"/>
<circle cx="373.6" cy="895" r="3" fill="#222"/>
<path d="M 302,994 L 312,957.4" fill="none" stroke="#222" stroke-width="1.70"/>
<path d="M 417.4,922.8 L 423,926" fill="none" stroke="#222" stroke-width="3.70"/>
<circle cx="423.4" cy="926.4" r="2.6" fill="#222"/>
<path d="M 363.4,944.8 L 369,948" fill="none" stroke="#222" stroke-width="3.70"/>
<circle cx="369.4" cy="948.4" r="2.6" fill="#222"/>
<path d="M 383.4,964.8 L 389,968" fill="none" stroke="#222" stroke-width="3.70"/>
<circle cx="389.4" cy="968.4" r="2.6" fill="#222"/>
<path d="M 442,941 L 425.4,928" fill="none" stroke="#222" stroke-width="1.70"/>
<path d="M 442,941 L 372.4,948" fill="none" stroke="#222" stroke-width="1.70"/>
<path d="M 442,941 L 391.4,967.2" fill="none" stroke="#222" stroke-width="1.70"/>
<path d="M 436,608 L 422,630" fill="none" stroke="#222" stroke-width="1.70"/>
<path d="M 436,608 L 447,646" fill="none" stroke="#222" stroke-width="1.70"/>
<path d="M 437,607.6 L 486,617" fill="none" stroke="#222" stroke-width="1.70"/>
<path d="M 419,633.6 L 428,638.4" fill="none" stroke="#222" stroke-width="3.90"/>
<circle cx="419" cy="633.6" r="3" fill="#222"/>
<path d="M 448,649 L 457,653.8" fill="none" stroke="#222" stroke-width="3.90"/>
<circle cx="448" cy="649" r="3" fill="#222"/>
<path d="M 487,617.6 L 496,622.4" fill="none" stroke="#222" stroke-width="3.90"/>
<circle cx="487" cy="617.6" r="3" fill="#222"/>
<path d="M 430,639.2 L 446,647.6" fill="none" stroke="#222" stroke-width="2.70" stroke-dasharray="4.2 3"/>
<path d="M 458,654 L 478,665" fill="none" stroke="#222" stroke-width="2.70" stroke-dasharray="4.2 3"/>
<path d="M 498,623 L 530,642" fill="none" stroke="#222" stroke-width="1.85" stroke-dasharray="4.2 3"/>
<path d="M 479,665 L 530,644" fill="none" stroke="#222" stroke-width="3.70"/>
<path d="M 479,665 L 500,704" fill="none" stroke="#222" stroke-width="3.70"/>
<path d="M 500,704 L 506,705 L 520,694 L 530,689 M 530,644 L 528,650 C 528,664 522,678 514,688" fill="none" stroke="#222" stroke-width="2.30"/>
<path d="M 530,644 L 536,640 L 544,642 L 558,657 L 552,692 L 540,698 L 530,689 L 538,674 L 544,642" fill="none" stroke="#222" stroke-width="2.50"/>
<path d="M 546,660 L 544,689 M 552,658 L 549,692 M 540,684 L 540,698 M 547,654 L 558,657" fill="none" stroke="#222" stroke-width="3.30"/>
<circle cx="480" cy="666" r="3.6" fill="#222"/>
<circle cx="508" cy="684" r="4" fill="#222"/>
<circle cx="534.4" cy="647" r="4.5" fill="#222"/>
<path d="M 484,669 L 506,682" fill="none" stroke="#222" stroke-width="2.70" stroke-dasharray="4.2 3"/>
<path d="M 541,608 L 534.4,644.4" fill="none" stroke="#222" stroke-width="1.70"/>
<path d="M 528,695 L 560,713" fill="none" stroke="#222" stroke-width="2.90" stroke-dasharray="6 5"/>
<path d="M 560,657 L 615,692.4" fill="none" stroke="#222" stroke-width="1.85" stroke-dasharray="4.2 3"/>
<path d="M 510,772 L 528,805" fill="none" stroke="#222" stroke-width="1.70"/>
<path d="M 83.9,737.4 L 80.6,787.8" fill="none" stroke="#222" stroke-width="1.70"/>
<path d="M 83.9,737.4 L 121.3,752" fill="none" stroke="#222" stroke-width="1.70"/>
<path d="M 122.1,752.8 L 130.2,757.4" fill="none" stroke="#222" stroke-width="3.70"/>
<circle cx="122.1" cy="752.8" r="3" fill="#222"/>
<path d="M 79,789.4 L 87.1,793.9" fill="none" stroke="#222" stroke-width="3.70"/>
<circle cx="79" cy="789.4" r="3" fill="#222"/>
<path d="M 131.3,759.5 L 168.4,778.3" fill="none" stroke="#222" stroke-width="1.85" stroke-dasharray="4.2 3"/>
<path d="M 176.8,784.8 L 235,821.2" fill="none" stroke="#222" stroke-width="1.85" stroke-dasharray="4.2 3"/>
<path d="M 88.8,794.6 L 106.6,803.4" fill="none" stroke="#222" stroke-width="1.85" stroke-dasharray="4.2 3"/>
<path d="M 105.8,804 C 108.3,795.9 116.4,788.6 127.8,786.9 L 135.9,792.6 C 127.8,795.9 121.3,804 119.6,813.8 L 119.6,843 L 124.5,852.8" fill="none" stroke="#222" stroke-width="1.90"/>
<path d="M 105.8,804 L 106.6,836.5 C 108.3,841.4 111.5,843.8 116.4,845.4 L 124.5,853.6 L 128.7,851.9" fill="none" stroke="#222" stroke-width="2.10"/>
<path d="M 139.1,791 L 171.6,778.8 C 175.2,778 176.8,781.3 174.9,784.8 L 145.6,828.4 L 137.5,841.4 L 124.5,843.8 L 121.3,839.8" fill="none" stroke="#222" stroke-width="4.10"/>
<path d="M 119.6,813.8 C 121.3,805.6 127.8,797.5 136.2,795.9 L 144,795.1 L 145.6,799.5" fill="none" stroke="#222" stroke-width="3.30"/>
<path d="M 124.5,805.6 L 131,810.5 L 130.2,828.4 L 137.5,830.3 M 123.7,813.8 L 123.7,825.1" fill="none" stroke="#222" stroke-width="2.30"/>
<ellipse cx="139.1" cy="823.8" rx="2.9" ry="3.3" transform="rotate(0 139.1 823.8)" fill="none" stroke="#222" stroke-width="4.80"/>
<path d="M 118,844.6 L 128.6,853.6" fill="none" stroke="#222" stroke-width="3.70"/>
<path d="M 90.4,874.7 L 113.9,843.3" fill="none" stroke="#222" stroke-width="1.70"/>
<path d="M 147.3,823.5 L 225.3,866.1" fill="none" stroke="#222" stroke-width="1.85" stroke-dasharray="4.2 3"/>
<path d="M 144,830 L 222,872.6" fill="none" stroke="#222" stroke-width="1.85" stroke-dasharray="4.2 3"/>
<path d="M 144.8,891.8 L 178.1,903.1" fill="none" stroke="#222" stroke-width="1.70"/>
<path d="M 179.4,886 L 199.8,898.2 L 199.8,918.5 L 204.6,916.9 L 204.6,930.7 L 201.4,931.5 L 177.8,913.6 Z" fill="none" stroke="#222" stroke-width="3.30"/>
<path d="M 181.9,889.3 L 197.3,899 L 197.3,916.9 L 180.3,908.8 Z" fill="none" stroke="#222" stroke-width="1.80"/>
<ellipse cx="182.2" cy="894.5" rx="1.5" ry="1.8" transform="rotate(0 182.2 894.5)" fill="none" stroke="#222" stroke-width="3.80"/>
<ellipse cx="188.7" cy="901.9" rx="2.0" ry="2.3" transform="rotate(0 188.7 901.9)" fill="none" stroke="#222" stroke-width="2.90"/>
<ellipse cx="181.6" cy="908.4" rx="2.0" ry="2.3" transform="rotate(0 181.6 908.4)" fill="none" stroke="#222" stroke-width="2.90"/>
<ellipse cx="189.2" cy="914.4" rx="2.0" ry="2.3" transform="rotate(0 189.2 914.4)" fill="none" stroke="#222" stroke-width="2.90"/>
<ellipse cx="195.2" cy="908.8" rx="1.3" ry="2.3" transform="rotate(0 195.2 908.8)" fill="none" stroke="#222" stroke-width="2.70"/>
<path d="M 145.3,890.9 L 178.6,903.1" fill="none" stroke="#222" stroke-width="1.70"/>
<ellipse cx="120.1" cy="929.9" rx="3.9" ry="5.2" transform="rotate(-20 120.1 929.9)" fill="none" stroke="#222" stroke-width="3.30"/>
<path d="M 121.8,925 L 133.9,919.8 C 136.7,920.1 137.4,925 135.6,926.3 L 123.7,933.5" fill="none" stroke="#222" stroke-width="1.90"/>
<ellipse cx="133.1" cy="937.5" rx="3.9" ry="5.2" transform="rotate(-20 133.1 937.5)" fill="none" stroke="#222" stroke-width="3.30"/>
<path d="M 134.8,932.6 L 146.9,927.4 C 149.7,927.8 150.4,932.6 148.6,933.9 L 136.7,941.1" fill="none" stroke="#222" stroke-width="1.90"/>
<ellipse cx="142.9" cy="948.6" rx="3.9" ry="5.2" transform="rotate(-20 142.9 948.6)" fill="none" stroke="#222" stroke-width="3.30"/>
<path d="M 144.5,943.7 L 156.7,938.5 C 159.5,938.8 160.1,943.7 158.3,945 L 146.5,952.1" fill="none" stroke="#222" stroke-width="1.90"/>
<path d="M 122.6,976.2 L 120.9,935.7" fill="none" stroke="#222" stroke-width="1.70"/>
<path d="M 122.6,976.2 L 132.5,942.6" fill="none" stroke="#222" stroke-width="1.70"/>
<path d="M 122.6,976.2 L 141.3,953" fill="none" stroke="#222" stroke-width="1.70"/>
<path d="M 138,920.1 L 177,899" fill="none" stroke="#222" stroke-width="1.85" stroke-dasharray="4.2 3"/>
<path d="M 201.4,886 L 220.9,873.8" fill="none" stroke="#222" stroke-width="1.85" stroke-dasharray="4.2 3"/>
<path d="M 151.3,927.4 L 178.6,912.3" fill="none" stroke="#222" stroke-width="1.85" stroke-dasharray="4.2 3"/>
<path d="M 203,898.2 L 224.1,886.8" fill="none" stroke="#222" stroke-width="1.85" stroke-dasharray="4.2 3"/>
<path d="M 161.1,938 L 203,915.6 L 225.8,901" fill="none" stroke="#222" stroke-width="1.85" stroke-dasharray="4.2 3"/>
<path d="M 229,998.9 L 218.4,961.7" fill="none" stroke="#222" stroke-width="1.70"/>
<path d="M 229,998.9 L 267.4,989.4" fill="none" stroke="#222" stroke-width="1.70"/>
<path d="M 237.1,1022.5 L 237.9,1045.3" fill="none" stroke="#222" stroke-width="1.85" stroke-dasharray="4.2 3"/>
<path d="M 302.1,996.5 L 311.9,957.8" fill="none" stroke="#222" stroke-width="1.70"/>
<path d="M 220.4,1044.4 C 221.5,1040.2 224.7,1038.1 227.9,1039.1 L 244.9,1050.8 L 248.1,1051.9 M 223.6,1045.5 L 224.7,1065.7 L 244.9,1078.4 L 248.1,1080.6" fill="none" stroke="#222" stroke-width="1.90"/>
<path d="M 248.1,1051.9 L 248.1,1080.6" fill="none" stroke="#222" stroke-width="3.30"/>
<path d="M 244.9,1050.8 L 244.9,1078.4 M 248.1,1080.6 C 250.2,1082.7 253.4,1081.6 255.5,1079.5" fill="none" stroke="#222" stroke-width="1.80"/>
<circle cx="234.7" cy="1060.4" r="2.4" fill="#222"/>
<path d="M 237.4,1020 L 237.4,1039.1" fill="none" stroke="#222" stroke-width="1.85" stroke-dasharray="4.2 3"/>
<path d="M 252.3,1081.6 L 310.7,1054" fill="none" stroke="#222" stroke-width="2.90"/>
<path d="M 278.9,1073.1 L 304.4,1083.7 L 305.4,1092.2 L 281,1081.6 Z" fill="#666" stroke="#222" stroke-width="2.30"/>
<path d="M 336.2,1072.1 L 304.8,1081.6" fill="none" stroke="#222" stroke-width="1.70"/>
<path d="M 251.2,1062.5 L 278.9,1074.4" fill="none" stroke="#222" stroke-width="1.85" stroke-dasharray="4.2 3"/>
<path d="M 274.6,1097.6 L 295.9,1108.2 L 296.9,1134.7 L 274.6,1122 Z" fill="none" stroke="#222" stroke-width="2.90"/>
<ellipse cx="282.1" cy="1113.5" rx="2.1" ry="2.8" transform="rotate(0 282.1 1113.5)" fill="none" stroke="#222" stroke-width="3.30"/>
<ellipse cx="287.4" cy="1118.8" rx="2.1" ry="2.8" transform="rotate(0 287.4 1118.8)" fill="none" stroke="#222" stroke-width="3.30"/>
<ellipse cx="281" cy="1119.9" rx="1.9" ry="2.5" transform="rotate(0 281 1119.9)" fill="none" stroke="#222" stroke-width="2.70"/>
<circle cx="289.5" cy="1124.5" r="2" fill="#222"/>
<path d="M 296.9,1134.7 L 299.1,1136.9" fill="none" stroke="#222" stroke-width="2.30"/>
<path d="M 332,1118.8 L 298,1119.9" fill="none" stroke="#222" stroke-width="1.70"/>
<path d="M 294.8,1106.1 L 319.2,1092.2" fill="none" stroke="#222" stroke-width="1.85" stroke-dasharray="4.2 3"/>
<path d="M 298,1114.6 L 323.5,1103.9" fill="none" stroke="#222" stroke-width="1.85" stroke-dasharray="4.2 3"/>
<path d="M 273.6,1119.9 L 252.3,1130.9" fill="none" stroke="#222" stroke-width="1.85" stroke-dasharray="4.2 3"/>
<path d="M 274.6,1126.2 L 251.2,1139.4" fill="none" stroke="#222" stroke-width="1.85" stroke-dasharray="4.2 3"/>
<ellipse cx="242.7" cy="1135.8" rx="2.1" ry="2.5" transform="rotate(0 242.7 1135.8)" fill="none" stroke="#222" stroke-width="3.50"/>
<ellipse cx="250.2" cy="1137.3" rx="2.1" ry="2.5" transform="rotate(0 250.2 1137.3)" fill="none" stroke="#222" stroke-width="3.50"/>
<path d="M 252.3,1135.8 L 258.7,1133 M 253.8,1139 L 259.7,1136.4" fill="none" stroke="#222" stroke-width="1.70"/>
<path d="M 227.9,1103.9 L 241.7,1132.6" fill="none" stroke="#222" stroke-width="1.70"/>
<path d="M 227.9,1103.9 L 249.1,1133.9" fill="none" stroke="#222" stroke-width="1.70"/>
<path d="M 211.9,1130.5 L 233.2,1141.1 L 234.2,1171.9 L 211.9,1159.2 Z" fill="none" stroke="#222" stroke-width="2.90"/>
<ellipse cx="222.6" cy="1145.8" rx="2.3" ry="3.0" transform="rotate(0 222.6 1145.8)" fill="none" stroke="#222" stroke-width="3.70"/>
<ellipse cx="218.3" cy="1155.1" rx="2.3" ry="3.0" transform="rotate(0 218.3 1155.1)" fill="none" stroke="#222" stroke-width="3.70"/>
<ellipse cx="227.2" cy="1159.4" rx="2.3" ry="3.0" transform="rotate(0 227.2 1159.4)" fill="none" stroke="#222" stroke-width="3.70"/>
<path d="M 234.2,1143.7 L 273.6,1122.4" fill="none" stroke="#222" stroke-width="1.85" stroke-dasharray="4.2 3"/>
<path d="M 235.3,1156.4 L 274.6,1135.2" fill="none" stroke="#222" stroke-width="1.85" stroke-dasharray="4.2 3"/>
<path d="M 235.3,1166.6 C 272.5,1158.1 336.2,1143.2 401.1,1115.6" fill="none" stroke="#222" stroke-width="1.90"/>
<path d="M 234.2,1171.9 L 242.7,1178.3 C 272.5,1177.2 336.2,1166.6 401.1,1139" fill="none" stroke="#222" stroke-width="2.50"/>
<path d="M 180.1,1166.6 C 181.1,1162.4 185.4,1159.2 189.6,1162.4 L 192.8,1181.5 L 193.9,1187.9 L 187.5,1185.7 L 179,1180.4 Z" fill="none" stroke="#222" stroke-width="2.30"/>
<circle cx="185.4" cy="1169.8" r="2" fill="#222"/>
<circle cx="182.2" cy="1177.2" r="2" fill="#222"/>
<path d="M 192.8,1187.9 L 194.3,1190" fill="none" stroke="#222" stroke-width="2.30"/>
<path d="M 170.5,1128.4 L 183.2,1162.4" fill="none" stroke="#222" stroke-width="1.70"/>
<path d="M 193.9,1168.7 L 211.9,1157.3" fill="none" stroke="#222" stroke-width="1.85" stroke-dasharray="4.2 3"/>
<path d="M 196,1178.5 L 213,1168.7" fill="none" stroke="#222" stroke-width="1.85" stroke-dasharray="4.2 3"/>
<path d="M 179,1175.1 L 162,1183.6" fill="none" stroke="#222" stroke-width="1.85" stroke-dasharray="4.2 3"/>
<path d="M 187.5,1187.9 L 159.9,1201" fill="none" stroke="#222" stroke-width="1.85" stroke-dasharray="4.2 3"/>
<ellipse cx="154.6" cy="1184.7" rx="2.3" ry="2.8" transform="rotate(0 154.6 1184.7)" fill="none" stroke="#222" stroke-width="3.90"/>
<ellipse cx="142.9" cy="1198.5" rx="2.3" ry="2.8" transform="rotate(0 142.9 1198.5)" fill="none" stroke="#222" stroke-width="3.90"/>
<ellipse cx="151.4" cy="1205.3" rx="2.3" ry="2.8" transform="rotate(0 151.4 1205.3)" fill="none" stroke="#222" stroke-width="3.90"/>
<path d="M 157.7,1182.6 L 166.2,1179.4 M 146.1,1196.8 L 153.5,1193.8 M 155.2,1203.2 L 163.1,1200.2" fill="none" stroke="#222" stroke-width="1.70"/>
<path d="M 120.6,1165.6 L 151.4,1182.6" fill="none" stroke="#222" stroke-width="1.70"/>
<path d="M 120.6,1165.6 L 141.8,1195.5" fill="none" stroke="#222" stroke-width="1.70"/>
<path d="M 191.7,1205.9 L 155.6,1205.9" fill="none" stroke="#222" stroke-width="1.70"/>
<path d="M 251.5,1058.4 L 389.5,990.8 C 403.9,983.6 412.5,980.7 424,977.9 L 599.4,929" fill="none" stroke="#222" stroke-width="1.90"/>
<path d="M 254.4,1081.4 L 401,1006.6 C 418.2,998 426.9,995.1 438.4,992.2 L 610.9,943.4 C 619.5,941.9 623.8,937.6 626.7,931.9 L 638.2,907.4" fill="none" stroke="#222" stroke-width="2.70"/>
<path d="M 599.4,929 L 613.7,920.4 L 615.2,894.5 C 616.6,891.6 619.5,891 622.4,892.2 L 638.2,903.1 C 640.2,906 639.6,908.9 638.2,911.7 M 613.7,920.4 L 625.2,928.4 M 599.4,929 L 610.9,937.6" fill="none" stroke="#222" stroke-width="1.90"/>
<circle cx="620.1" cy="916.1" r="2.4" fill="#222"/>
<path d="M 619.5,860 L 619.5,912.3" fill="none" stroke="#222" stroke-width="1.85" stroke-dasharray="4.2 3"/>
<path d="M 444.1,1029.6 L 434.1,992.8" fill="none" stroke="#222" stroke-width="1.70"/>
<path d="M 401,1115.6 C 418.2,1110.7 432.6,1106.7 445,1102.6 C 493,1084.8 539,1062.7 568.9,1044.6" fill="none" stroke="#222" stroke-width="1.90"/>
<path d="M 401,1138.9 C 418.2,1133.1 432.6,1125.9 445,1119.9 C 498.7,1100.1 539,1082.8 568.9,1069" fill="none" stroke="#222" stroke-width="2.30"/>
<path d="M 454.2,1159 L 444.1,1120.2" fill="none" stroke="#222" stroke-width="1.70"/>
<path d="M 551.9,862.9 L 554.8,860 L 576.4,870.1 L 573.5,877.2 L 553.4,868.6 Z" fill="none" stroke="#222" stroke-width="2.10"/>
<path d="M 537.6,898.8 L 562,872.9" fill="none" stroke="#222" stroke-width="1.70"/>
<path d="M 577.8,872.9 L 613.7,891.6" fill="none" stroke="#222" stroke-width="1.85" stroke-dasharray="4.2 3"/>
<path d="M 526.1,995.1 L 546.2,1006.6 L 540.4,1038.2 L 533.2,1039.7 L 517.4,1026.7 Z" fill="none" stroke="#222" stroke-width="2.70"/>
<circle cx="530.4" cy="1009.5" r="2" fill="#222"/>
<circle cx="537.6" cy="1013.8" r="2" fill="#222"/>
<circle cx="527.5" cy="1018.1" r="2" fill="#222"/>
<circle cx="534.7" cy="1021.6" r="2" fill="#222"/>
<path d="M 520.3,1026.7 L 539,1032.5" fill="none" stroke="#222" stroke-width="1.70"/>
<path d="M 494.4,1048.3 L 523.2,1032.5" fill="none" stroke="#222" stroke-width="1.70"/>
<path d="M 495.9,1012.4 L 524.6,1008.1" fill="none" stroke="#222" stroke-width="1.85" stroke-dasharray="4.2 3"/>
<path d="M 495.9,1021 L 523.2,1017.5" fill="none" stroke="#222" stroke-width="1.85" stroke-dasharray="4.2 3"/>
<path d="M 498.7,1026.7 L 520.3,1025.3" fill="none" stroke="#222" stroke-width="1.85" stroke-dasharray="4.2 3"/>
<path d="M 547.6,1006.6 L 570.6,1003.2" fill="none" stroke="#222" stroke-width="1.85" stroke-dasharray="4.2 3"/>
<path d="M 546.2,1013.8 L 570.6,1010.1" fill="none" stroke="#222" stroke-width="1.85" stroke-dasharray="4.2 3"/>
<path d="M 544.7,1021 L 570.6,1017.5" fill="none" stroke="#222" stroke-width="1.85" stroke-dasharray="4.2 3"/>
<ellipse cx="579.2" cy="1003.7" rx="2.6" ry="2.0" transform="rotate(0 579.2 1003.7)" fill="none" stroke="#222" stroke-width="2.50"/>
<ellipse cx="592.2" cy="1006.6" rx="2.6" ry="2.0" transform="rotate(0 592.2 1006.6)" fill="none" stroke="#222" stroke-width="2.50"/>
<path d="M 610.9,972.1 L 582.1,1000.9" fill="none" stroke="#222" stroke-width="1.70"/>
<path d="M 610.9,972.1 L 595.1,1003.7" fill="none" stroke="#222" stroke-width="1.70"/>
<path d="M 682.7,941.9 L 677,978.4" fill="none" stroke="#222" stroke-width="1.70"/>
<path d="M 551.9,1125.9 L 589.3,1124.5" fill="none" stroke="#222" stroke-width="1.70"/>
<path d="M 582.1,1176.2 L 619.5,1170.5" fill="none" stroke="#222" stroke-width="1.70"/>
<path d="M 599.4,1199.2 L 633.9,1187.7" fill="none" stroke="#222" stroke-width="1.70"/>
<path d="M 584,1139 L 600,1108 C 602,1104 606,1101 610,1099 L 760,1003 C 770,997 786,993 798,995 C 816,999 830,1012 836,1026 C 841,1038 842,1050 840,1058" fill="none" stroke="#222" stroke-width="2.10"/>
<path d="M 592,1141 L 607,1112 C 609,1108 612,1106 616,1103.6 L 762,1009 C 772,1003 786,1000 796,1002 C 810,1005 823,1016 829,1028 C 832,1036 833,1044 831,1050" fill="none" stroke="#222" stroke-width="1.90"/>
<path d="M 584,1139 L 590,1144 L 595,1141" fill="none" stroke="#222" stroke-width="1.90"/>
<path d="M 612,1128 C 613,1124 615,1122 618,1120 L 770,1022 C 778,1017 788,1016 796,1018 C 808,1021 818,1028 822,1036" fill="none" stroke="#222" stroke-width="1.80"/>
<path d="M 658,1152 C 664,1148 670,1144 678,1140 L 824,1048" fill="none" stroke="#222" stroke-width="2.10"/>
<path d="M 596,1132.4 L 658,1165 M 612,1128 C 616,1136 636,1146 660,1151" fill="none" stroke="#222" stroke-width="1.90"/>
<path d="M 658,1165 L 655.6,1178 L 660.4,1179.2 L 665,1167" fill="none" stroke="#222" stroke-width="1.90"/>
<path d="M 665,1167 C 670,1162 674,1159 682,1155 L 830,1064 C 836,1060 839,1059 840,1058" fill="none" stroke="#222" stroke-width="2.10"/>
<path d="M 673,1172 L 676,1192 C 677,1196 682,1197.2 688,1195.2 L 698,1186 L 714,1148" fill="none" stroke="#222" stroke-width="1.90"/>
<circle cx="685" cy="1186" r="2.4" fill="#222"/>
<path d="M 649,1178 C 647,1190 648,1202 654,1209 L 664,1212 C 674,1210 686,1202 694,1196 L 891,1088" fill="none" stroke="#222" stroke-width="2.10"/>
<path d="M 620,1154 C 617,1162 617,1180 622,1192 C 626,1198 632,1200 636,1201.2 L 654,1209 M 636,1160 C 632,1168 631,1184 636,1201.2 M 620,1154 L 636,1160 L 655.6,1170" fill="none" stroke="#222" stroke-width="1.90"/>
<path d="M 634,1162 C 630,1170 629.6,1182 633.6,1198" fill="none" stroke="#222" stroke-width="2.50"/>
<path d="M 620,1121.6 L 660,1151" fill="none" stroke="#2a2a2a" stroke-width="2.90"/>
<ellipse cx="634.9" cy="1129.2" rx="2.4" ry="1.4" transform="rotate(35 634.9 1129.2)" fill="none" stroke="#222" stroke-width="1.90"/>
<ellipse cx="644.8" cy="1136.5" rx="2.4" ry="1.4" transform="rotate(35 644.8 1136.5)" fill="none" stroke="#222" stroke-width="1.90"/>
<ellipse cx="654.8" cy="1143.9" rx="2.4" ry="1.4" transform="rotate(35 654.8 1143.9)" fill="none" stroke="#222" stroke-width="1.90"/>
<path d="M 630.2,1115 L 670.6,1144.2" fill="none" stroke="#2a2a2a" stroke-width="2.90"/>
<ellipse cx="645.2" cy="1122.6" rx="2.4" ry="1.4" transform="rotate(35 645.2 1122.6)" fill="none" stroke="#222" stroke-width="1.90"/>
<ellipse cx="655.3" cy="1129.9" rx="2.4" ry="1.4" transform="rotate(35 655.3 1129.9)" fill="none" stroke="#222" stroke-width="1.90"/>
<ellipse cx="665.4" cy="1137.2" rx="2.4" ry="1.4" transform="rotate(35 665.4 1137.2)" fill="none" stroke="#222" stroke-width="1.90"/>
<path d="M 640.4,1108.4 L 681.4,1137.6" fill="none" stroke="#2a2a2a" stroke-width="2.90"/>
<ellipse cx="655.5" cy="1116" rx="2.4" ry="1.4" transform="rotate(35 655.5 1116)" fill="none" stroke="#222" stroke-width="1.90"/>
<ellipse cx="665.7" cy="1123.3" rx="2.4" ry="1.4" transform="rotate(35 665.7 1123.3)" fill="none" stroke="#222" stroke-width="1.90"/>
<ellipse cx="676" cy="1130.5" rx="2.4" ry="1.4" transform="rotate(35 676 1130.5)" fill="none" stroke="#222" stroke-width="1.90"/>
<path d="M 650.6,1102 L 692,1130.8" fill="none" stroke="#2a2a2a" stroke-width="2.90"/>
<ellipse cx="665.8" cy="1109.4" rx="2.4" ry="1.4" transform="rotate(35 665.8 1109.4)" fill="none" stroke="#222" stroke-width="1.90"/>
<ellipse cx="676.2" cy="1116.6" rx="2.4" ry="1.4" transform="rotate(35 676.2 1116.6)" fill="none" stroke="#222" stroke-width="1.90"/>
<ellipse cx="686.5" cy="1123.8" rx="2.4" ry="1.4" transform="rotate(35 686.5 1123.8)" fill="none" stroke="#222" stroke-width="1.90"/>
<path d="M 660.8,1095.4 L 702.6,1124" fill="none" stroke="#2a2a2a" stroke-width="2.90"/>
<ellipse cx="676.1" cy="1102.8" rx="2.4" ry="1.4" transform="rotate(35 676.1 1102.8)" fill="none" stroke="#222" stroke-width="1.90"/>
<ellipse cx="686.6" cy="1110" rx="2.4" ry="1.4" transform="rotate(35 686.6 1110)" fill="none" stroke="#222" stroke-width="1.90"/>
<ellipse cx="697.1" cy="1117.1" rx="2.4" ry="1.4" transform="rotate(35 697.1 1117.1)" fill="none" stroke="#222" stroke-width="1.90"/>
<path d="M 670.8,1088.8 L 713.4,1117.4" fill="none" stroke="#2a2a2a" stroke-width="2.90"/>
<ellipse cx="686.4" cy="1096.2" rx="2.4" ry="1.4" transform="rotate(35 686.4 1096.2)" fill="none" stroke="#222" stroke-width="1.90"/>
<ellipse cx="697" cy="1103.3" rx="2.4" ry="1.4" transform="rotate(35 697 1103.3)" fill="none" stroke="#222" stroke-width="1.90"/>
<ellipse cx="707.6" cy="1110.4" rx="2.4" ry="1.4" transform="rotate(35 707.6 1110.4)" fill="none" stroke="#222" stroke-width="1.90"/>
<path d="M 681,1082.2 L 724,1110.6" fill="none" stroke="#2a2a2a" stroke-width="2.90"/>
<ellipse cx="696.7" cy="1089.6" rx="2.4" ry="1.4" transform="rotate(35 696.7 1089.6)" fill="none" stroke="#222" stroke-width="1.90"/>
<ellipse cx="707.5" cy="1096.7" rx="2.4" ry="1.4" transform="rotate(35 707.5 1096.7)" fill="none" stroke="#222" stroke-width="1.90"/>
<ellipse cx="718.2" cy="1103.7" rx="2.4" ry="1.4" transform="rotate(35 718.2 1103.7)" fill="none" stroke="#222" stroke-width="1.90"/>
<path d="M 691.2,1075.8 L 734.6,1103.8" fill="none" stroke="#2a2a2a" stroke-width="2.90"/>
<ellipse cx="707.1" cy="1083" rx="2.4" ry="1.4" transform="rotate(35 707.1 1083)" fill="none" stroke="#222" stroke-width="1.90"/>
<ellipse cx="717.9" cy="1090" rx="2.4" ry="1.4" transform="rotate(35 717.9 1090)" fill="none" stroke="#222" stroke-width="1.90"/>
<ellipse cx="728.8" cy="1097" rx="2.4" ry="1.4" transform="rotate(35 728.8 1097)" fill="none" stroke="#222" stroke-width="1.90"/>
<path d="M 701.4,1069.2 L 745.4,1097.2" fill="none" stroke="#2a2a2a" stroke-width="2.90"/>
<ellipse cx="717.4" cy="1076.4" rx="2.4" ry="1.4" transform="rotate(35 717.4 1076.4)" fill="none" stroke="#222" stroke-width="1.90"/>
<ellipse cx="728.4" cy="1083.4" rx="2.4" ry="1.4" transform="rotate(35 728.4 1083.4)" fill="none" stroke="#222" stroke-width="1.90"/>
<ellipse cx="739.3" cy="1090.3" rx="2.4" ry="1.4" transform="rotate(35 739.3 1090.3)" fill="none" stroke="#222" stroke-width="1.90"/>
<path d="M 711.6,1062.6 L 756,1090.4" fill="none" stroke="#2a2a2a" stroke-width="2.90"/>
<ellipse cx="727.7" cy="1069.8" rx="2.4" ry="1.4" transform="rotate(35 727.7 1069.8)" fill="none" stroke="#222" stroke-width="1.90"/>
<ellipse cx="738.8" cy="1076.7" rx="2.4" ry="1.4" transform="rotate(35 738.8 1076.7)" fill="none" stroke="#222" stroke-width="1.90"/>
<ellipse cx="749.9" cy="1083.7" rx="2.4" ry="1.4" transform="rotate(35 749.9 1083.7)" fill="none" stroke="#222" stroke-width="1.90"/>
<path d="M 721.6,1056.2 L 766.6,1083.6" fill="none" stroke="#2a2a2a" stroke-width="2.90"/>
<ellipse cx="738" cy="1063.2" rx="2.4" ry="1.4" transform="rotate(35 738 1063.2)" fill="none" stroke="#222" stroke-width="1.90"/>
<ellipse cx="749.2" cy="1070.1" rx="2.4" ry="1.4" transform="rotate(35 749.2 1070.1)" fill="none" stroke="#222" stroke-width="1.90"/>
<ellipse cx="760.5" cy="1077" rx="2.4" ry="1.4" transform="rotate(35 760.5 1077)" fill="none" stroke="#222" stroke-width="1.90"/>
<path d="M 731.8,1049.6 L 777.4,1077" fill="none" stroke="#2a2a2a" stroke-width="2.90"/>
<ellipse cx="748.3" cy="1056.6" rx="2.4" ry="1.4" transform="rotate(35 748.3 1056.6)" fill="none" stroke="#222" stroke-width="1.90"/>
<ellipse cx="759.7" cy="1063.4" rx="2.4" ry="1.4" transform="rotate(35 759.7 1063.4)" fill="none" stroke="#222" stroke-width="1.90"/>
<ellipse cx="771" cy="1070.3" rx="2.4" ry="1.4" transform="rotate(35 771 1070.3)" fill="none" stroke="#222" stroke-width="1.90"/>
<path d="M 742,1043 L 788,1070.2" fill="none" stroke="#2a2a2a" stroke-width="2.90"/>
<ellipse cx="758.6" cy="1050" rx="2.4" ry="1.4" transform="rotate(35 758.6 1050)" fill="none" stroke="#222" stroke-width="1.90"/>
<ellipse cx="770.1" cy="1056.8" rx="2.4" ry="1.4" transform="rotate(35 770.1 1056.8)" fill="none" stroke="#222" stroke-width="1.90"/>
<ellipse cx="781.6" cy="1063.6" rx="2.4" ry="1.4" transform="rotate(35 781.6 1063.6)" fill="none" stroke="#222" stroke-width="1.90"/>
<path d="M 752.2,1036.4 L 798.6,1063.4" fill="none" stroke="#2a2a2a" stroke-width="2.90"/>
<ellipse cx="768.9" cy="1043.4" rx="2.4" ry="1.4" transform="rotate(35 768.9 1043.4)" fill="none" stroke="#222" stroke-width="1.90"/>
<ellipse cx="780.5" cy="1050.1" rx="2.4" ry="1.4" transform="rotate(35 780.5 1050.1)" fill="none" stroke="#222" stroke-width="1.90"/>
<ellipse cx="792.2" cy="1056.9" rx="2.4" ry="1.4" transform="rotate(35 792.2 1056.9)" fill="none" stroke="#222" stroke-width="1.90"/>
<path d="M 762.4,1030 L 809.4,1056.8" fill="none" stroke="#2a2a2a" stroke-width="2.90"/>
<ellipse cx="779.2" cy="1036.8" rx="2.4" ry="1.4" transform="rotate(35 779.2 1036.8)" fill="none" stroke="#222" stroke-width="1.90"/>
<ellipse cx="791" cy="1043.5" rx="2.4" ry="1.4" transform="rotate(35 791 1043.5)" fill="none" stroke="#222" stroke-width="1.90"/>
<ellipse cx="802.7" cy="1050.2" rx="2.4" ry="1.4" transform="rotate(35 802.7 1050.2)" fill="none" stroke="#222" stroke-width="1.90"/>
<path d="M 772.4,1023.4 L 820,1050" fill="none" stroke="#2a2a2a" stroke-width="2.90"/>
<ellipse cx="789.5" cy="1030.2" rx="2.4" ry="1.4" transform="rotate(35 789.5 1030.2)" fill="none" stroke="#222" stroke-width="1.90"/>
<ellipse cx="801.4" cy="1036.8" rx="2.4" ry="1.4" transform="rotate(35 801.4 1036.8)" fill="none" stroke="#222" stroke-width="1.90"/>
<ellipse cx="813.3" cy="1043.5" rx="2.4" ry="1.4" transform="rotate(35 813.3 1043.5)" fill="none" stroke="#222" stroke-width="1.90"/>
<path d="M 800,1019 L 821,1039 M 804,1018 L 822.4,1037 M 808,1019 L 823,1035.6" fill="none" stroke="#222" stroke-width="1.90"/>
<ellipse cx="720.4" cy="978" rx="2.4" ry="2.8" transform="rotate(0 720.4 978)" fill="none" stroke="#222" stroke-width="4.30"/>
<path d="M 712.4,978.8 L 717.6,978.4" fill="none" stroke="#222" stroke-width="2.70"/>
<ellipse cx="723.6" cy="990" rx="2.4" ry="2.8" transform="rotate(0 723.6 990)" fill="none" stroke="#222" stroke-width="4.30"/>
<path d="M 715.6,990.8 L 720.8,990.4" fill="none" stroke="#222" stroke-width="2.70"/>
<ellipse cx="714.4" cy="987.2" rx="2.4" ry="2.8" transform="rotate(0 714.4 987.2)" fill="none" stroke="#222" stroke-width="4.30"/>
<path d="M 706.4,988 L 711.6,987.6" fill="none" stroke="#222" stroke-width="2.70"/>
<path d="M 767,978 L 726.4,977.2" fill="none" stroke="#222" stroke-width="1.70"/>
<path d="M 767,978 L 728.4,988.4" fill="none" stroke="#222" stroke-width="1.70"/>
<path d="M 767,978 L 719.6,984.4" fill="none" stroke="#222" stroke-width="1.70"/>
<path d="M 686,984 L 710,979.2" fill="none" stroke="#222" stroke-width="1.85" stroke-dasharray="4.2 3"/>
<path d="M 688,990 L 708,988.4" fill="none" stroke="#222" stroke-width="1.85" stroke-dasharray="4.2 3"/>
<path d="M 686,996 L 713,993.6" fill="none" stroke="#222" stroke-width="1.85" stroke-dasharray="4.2 3"/>
<ellipse cx="674" cy="982" rx="2.4" ry="2.6" transform="rotate(0 674 982)" fill="none" stroke="#222" stroke-width="4.30"/>
<ellipse cx="679.6" cy="985.2" rx="2.4" ry="2.6" transform="rotate(0 679.6 985.2)" fill="none" stroke="#222" stroke-width="4.30"/>
<ellipse cx="671" cy="994" rx="2.4" ry="2.6" transform="rotate(0 671 994)" fill="none" stroke="#222" stroke-width="4.30"/>
<ellipse cx="678.4" cy="998" rx="2.4" ry="2.6" transform="rotate(0 678.4 998)" fill="none" stroke="#222" stroke-width="4.30"/>
<ellipse cx="673.6" cy="989.2" rx="2.4" ry="2.6" transform="rotate(0 673.6 989.2)" fill="none" stroke="#222" stroke-width="4.30"/>
<ellipse cx="680" cy="992.4" rx="2.4" ry="2.6" transform="rotate(0 680 992.4)" fill="none" stroke="#222" stroke-width="4.30"/>
<path d="M 630,975 L 652,985 L 645,1016 L 642,1017 L 628,1010 Z" fill="none" stroke="#222" stroke-width="2.30"/>
<ellipse cx="637" cy="990" rx="2.4" ry="2.8" transform="rotate(0 637 990)" fill="none" stroke="#222" stroke-width="3.70"/>
<ellipse cx="630" cy="1000" rx="2.4" ry="2.8" transform="rotate(0 630 1000)" fill="none" stroke="#222" stroke-width="3.70"/>
<ellipse cx="639" cy="1005.2" rx="2.4" ry="2.8" transform="rotate(0 639 1005.2)" fill="none" stroke="#222" stroke-width="3.70"/>
<path d="M 570,1003 L 626,994" fill="none" stroke="#222" stroke-width="1.85" stroke-dasharray="4.2 3"/>
<path d="M 570,1010 L 627,1001" fill="none" stroke="#222" stroke-width="1.85" stroke-dasharray="4.2 3"/>
<path d="M 570,1016.4 L 624,1008" fill="none" stroke="#222" stroke-width="1.85" stroke-dasharray="4.2 3"/>
<path d="M 653,987 L 668,985" fill="none" stroke="#222" stroke-width="1.85" stroke-dasharray="4.2 3"/>
<path d="M 652,994 L 667,993" fill="none" stroke="#222" stroke-width="1.85" stroke-dasharray="4.2 3"/>
<path d="M 650,1002 L 668,1000" fill="none" stroke="#222" stroke-width="1.85" stroke-dasharray="4.2 3"/>
<path d="M 569,1047.4 C 590,1040 610,1026 628,1010" fill="none" stroke="#222" stroke-width="1.90"/>
<path d="M 569,1068.4 C 600,1056 630,1036 645,1016" fill="none" stroke="#222" stroke-width="2.30"/>
<path d="M 608,1028 L 620,1034" fill="none" stroke="#222" stroke-width="1.80"/>
<path d="M 832,1019 L 960,938.8 L 1083.8,860 L 1207.5,784" fill="none" stroke="#222" stroke-width="1.90"/>
<path d="M 843.8,1044 L 960,977 L 1035,935 L 1091,899.4 L 1128.8,873 L 1185,835.6 L 1237.5,801" fill="none" stroke="#222" stroke-width="1.90"/>
<path d="M 1240.3,817 L 1185,854.4 L 1128.8,892 L 1095,914.4" fill="none" stroke="#222" stroke-width="1.90"/>
<path d="M 1022,951 L 820,1070 L 850,1054" fill="none" stroke="#222" stroke-width="1.90"/>
<path d="M 862.8,1048.6 L 1026.6,958.4" fill="none" stroke="#222" stroke-width="1.70"/>
<path d="M 714,1148 C 760,1130 790,1118 820,1103.3 C 900,1060 980,1012 1055,971.4" fill="none" stroke="#222" stroke-width="2.90"/>
<path d="M 760,1138 C 790,1122 800,1118 820,1106.8 C 870,1078 920,1046 953,1027 C 990,1008 1020,992 1054,973.8" fill="none" stroke="#222" stroke-width="2.10"/>
<path d="M 820,1130 L 910,1075 C 960,1042 1010,1008 1057.5,973" fill="none" stroke="#222" stroke-width="2.50"/>
<path d="M 1021.9,947.7 C 1020.7,944.1 1021.9,942.2 1024.2,940.6 L 1071.8,915.6 L 1078.9,906.1 C 1081.2,903.8 1088.4,903.8 1090.8,908.5 L 1089.6,939.4 C 1088.4,946.5 1083.6,951.2 1078.9,956 L 1059.9,971.4 L 1053.9,973.8 L 1021.9,947.7" fill="none" stroke="#222" stroke-width="1.90"/>
<path d="M 1071.8,915.6 L 1069.4,948.9 L 1059.9,960.8 L 1053.9,968.4" fill="none" stroke="#222" stroke-width="1.90"/>
<path d="M 1023.1,951.2 L 1053.9,973.1" fill="none" stroke="#222" stroke-width="3.70"/>
<ellipse cx="1027.8" cy="945.3" rx="1.7" ry="2.1" transform="rotate(0 1027.8 945.3)" fill="none" stroke="#222" stroke-width="2.10"/>
<ellipse cx="1082.4" cy="910.9" rx="1.4" ry="2.1" transform="rotate(0 1082.4 910.9)" fill="none" stroke="#222" stroke-width="2.10"/>
<circle cx="1058.7" cy="953.6" r="2.6" fill="#222"/>
<path d="M 1114.5,970.2 L 1083.6,947.7" fill="none" stroke="#222" stroke-width="1.70"/>
<path d="M 1062.2,1003.5 L 1031.4,980.9" fill="none" stroke="#222" stroke-width="1.70"/>
<path d="M 924.5,1108 L 911.4,1073.6" fill="none" stroke="#222" stroke-width="1.70"/>
<path d="M 922.1,923.9 L 931.6,960.8" fill="none" stroke="#222" stroke-width="1.70"/>
<path d="M 809.2,833 C 812.8,818.8 824.6,799.8 835.3,789.1 L 876.9,762.2" fill="none" stroke="#222" stroke-width="1.90"/>
<path d="M 809.2,833 L 850.8,859.1 C 857.9,862 865,859.6 872.1,854.4 L 961.2,782.6" fill="none" stroke="#222" stroke-width="1.90"/>
<path d="M 824.6,804.5 C 831.8,802.1 841.2,804.5 848.4,809.2 L 860.2,816.4 C 865,818.8 869.8,817.6 874.5,814 L 961.2,750.4" fill="none" stroke="#222" stroke-width="1.80"/>
<path d="M 867.4,825.9 L 861.4,859.1" fill="none" stroke="#222" stroke-width="1.70"/>
<path d="M 835.3,789.1 C 846,783.1 857.9,785.5 867.4,791.4 L 886.4,802.1" fill="none" stroke="#222" stroke-width="1.70"/>
<path d="M 875.7,768.9 C 873.3,764.1 875.7,760.6 880.4,757 L 910.1,729.7 L 924.4,722.6 L 929.1,742.8 L 917.2,740.9 L 885.2,769.4" fill="none" stroke="#222" stroke-width="2.10"/>
<path d="M 875.7,768.9 C 879.2,776 893.5,776 903,771.2 L 922,757 C 929.1,752.2 938.6,749.9 945.8,745.1 L 951.7,738 L 961.2,745.6" fill="none" stroke="#222" stroke-width="2.10"/>
<path d="M 879.7,767 L 913,731.4" fill="none" stroke="#333" stroke-width="5.30"/>
<path d="M 912.5,730.9 L 918.4,740.4 M 924.4,722.6 L 922,733.2" fill="none" stroke="#222" stroke-width="2.70"/>
<path d="M 818.7,882.9 L 830.6,845.4" fill="none" stroke="#222" stroke-width="1.70"/>
<path d="M 930.3,730.9 L 961.2,714.2" fill="none" stroke="#222" stroke-width="1.85" stroke-dasharray="4.2 3"/>
<path d="M 651.2,766.5 L 703.5,743.9 C 708.2,741.6 715.4,742.8 717.8,747.5 C 720.1,761.8 713,780.8 703.5,789.1 L 679.8,805.7 L 673.8,802.1 L 651.2,766.5" fill="none" stroke="#222" stroke-width="1.90"/>
<path d="M 703.5,743.9 L 691.6,787.9 L 679.8,802.6 M 691.6,787.9 L 675,800.9" fill="none" stroke="#222" stroke-width="1.90"/>
<path d="M 651.2,763.2 L 698.8,747.5" fill="none" stroke="#222" stroke-width="3.30"/>
<circle cx="654.8" cy="768.2" r="2.6" fill="#222"/>
<circle cx="683.3" cy="785.5" r="2.6" fill="#222"/>
<circle cx="711.8" cy="748" r="2.4" fill="#222"/>
<path d="M 667.9,837.8 L 679.8,807.4" fill="none" stroke="#222" stroke-width="1.70"/>
<path d="M 601.4,735.6 L 619.2,771.2 C 621.6,773.6 625.1,772.4 627.5,768.9 L 640.6,724.9" fill="none" stroke="#222" stroke-width="2.70"/>
<path d="M 587.1,746.3 L 618,774.1 M 606.1,735.6 L 621.6,767.7 L 635.8,726.1" fill="none" stroke="#222" stroke-width="1.70"/>
<circle cx="626.3" cy="751.3" r="2.2" fill="#222"/>
<circle cx="615.6" cy="741.8" r="2" fill="#222"/>
<path d="M 758.6,774.1 L 765.7,778.9" fill="none" stroke="#222" stroke-width="3.90"/>
<circle cx="766.2" cy="779.3" r="2.6" fill="#222"/>
<path d="M 713,802.1 L 741.5,819.9" fill="none" stroke="#222" stroke-width="3.30" stroke-dasharray="9 4"/>
<path d="M 767.6,823.5 L 766.7,782.2" fill="none" stroke="#222" stroke-width="1.70"/>
<path d="M 767.6,823.5 L 732,812.1" fill="none" stroke="#222" stroke-width="1.70"/>
<path d="M 619.2,776.5 L 619.2,911.4" fill="none" stroke="#222" stroke-width="1.85" stroke-dasharray="4.2 3"/>
<path d="M 627.5,755.1 L 653.6,768.9" fill="none" stroke="#222" stroke-width="2.70" stroke-dasharray="4.2 3"/>
<path d="M 656.5,768.4 L 682.1,784.5" fill="none" stroke="#222" stroke-width="2.70" stroke-dasharray="4.2 3"/>
<path d="M 639.4,746.3 L 703.5,735.6" fill="none" stroke="#222" stroke-width="1.85" stroke-dasharray="4.2 3"/>
<path d="M 720.1,751.3 L 760,774.6" fill="none" stroke="#222" stroke-width="1.85" stroke-dasharray="4.2 3"/>
<path d="M 698.8,794 L 713,802.1" fill="none" stroke="#222" stroke-width="1.85" stroke-dasharray="4.2 3"/>
<path d="M 658.4,715.7 L 703.5,743.2" fill="none" stroke="#222" stroke-width="1.85" stroke-dasharray="4.2 3"/>
<path d="M 997.5,845.9 L 972.2,871.2 C 970.9,876.9 973.5,881 978.8,883.4 L 1003.1,895.6 C 1010.6,898.6 1018.5,896 1023.8,890 L 1095.4,827.8 C 1100.2,822.9 1100.2,817.6 1096.9,814.1 L 1089.4,809.8 L 1084.1,791 L 1072.5,824.8" fill="none" stroke="#222" stroke-width="1.90"/>
<path d="M 1019.6,869.4 C 1025.6,867.9 1030.9,865.2 1035,861.9 L 1065,837.5 L 1091.2,813.1 M 1019.6,869.4 L 1016.2,875" fill="none" stroke="#222" stroke-width="1.80"/>
<path d="M 1053.8,796.2 L 1038.8,838.4" fill="none" stroke="#222" stroke-width="1.70"/>
<path d="M 984.4,878.8 L 1014.4,828.1 M 997.5,885.3 L 1026.6,834.7" fill="none" stroke="#333" stroke-width="4.50"/>
<path d="M 1014.4,828.1 L 1009.1,860 L 997.5,885.3 M 1026.6,834.7 L 1021.9,860 L 1020,869.4" fill="none" stroke="#222" stroke-width="1.70"/>
<ellipse cx="1054.7" cy="827.2" rx="3.2" ry="8.4" transform="rotate(40 1054.7 827.2)" fill="none" stroke="#222" stroke-width="2.30"/>
<circle cx="1077.2" cy="831.9" r="2.8" fill="#222"/>
<circle cx="1050.9" cy="854.4" r="2.8" fill="#222"/>
<circle cx="1024.7" cy="876.9" r="2.8" fill="#222"/>
<path d="M 978.8,796.2 L 990.9,850.6" fill="none" stroke="#222" stroke-width="1.85" stroke-dasharray="4.2 3"/>
<path d="M 1062.8,771.9 L 1072.5,807.5" fill="none" stroke="#222" stroke-width="1.85" stroke-dasharray="4.2 3"/>
<rect x="398.5" y="422" width="23" height="16" rx="2" fill="#d3dce2"/>
<text x="409.6" y="437.3" font-size="22" text-anchor="middle" fill="#15252d" stroke="#15252d" stroke-width="0.9">39</text>
<text x="125" y="138.9" font-size="22" text-anchor="middle" fill="#1c1c1c" stroke="#1c1c1c" stroke-width="0.4">121</text>
<text x="159" y="164.9" font-size="22" text-anchor="middle" fill="#1c1c1c" stroke="#1c1c1c" stroke-width="0.4">137</text>
<text x="235.5" y="205.4" font-size="22" text-anchor="middle" fill="#1c1c1c" stroke="#1c1c1c" stroke-width="0.4">46</text>
<text x="265" y="223.9" font-size="22" text-anchor="middle" fill="#1c1c1c" stroke="#1c1c1c" stroke-width="0.4">33</text>
<text x="303" y="250.9" font-size="22" text-anchor="middle" fill="#1c1c1c" stroke="#1c1c1c" stroke-width="0.4">34</text>
<text x="348" y="107.9" font-size="22" text-anchor="middle" fill="#1c1c1c" stroke="#1c1c1c" stroke-width="0.4">38</text>
<text x="510" y="110.9" font-size="22" text-anchor="middle" fill="#1c1c1c" stroke="#1c1c1c" stroke-width="0.4">141</text>
<text x="636" y="167.9" font-size="22" text-anchor="middle" fill="#1c1c1c" stroke="#1c1c1c" stroke-width="0.4">41</text>
<text x="587" y="217.9" font-size="22" text-anchor="middle" fill="#1c1c1c" stroke="#1c1c1c" stroke-width="0.4">49</text>
<text x="562" y="246.9" font-size="22" text-anchor="middle" fill="#1c1c1c" stroke="#1c1c1c" stroke-width="0.4">144</text>
<text x="561" y="283.9" font-size="22" text-anchor="middle" fill="#1c1c1c" stroke="#1c1c1c" stroke-width="0.4">138</text>
<text x="601" y="307.9" font-size="22" text-anchor="middle" fill="#1c1c1c" stroke="#1c1c1c" stroke-width="0.4">119</text>
<text x="272" y="281.9" font-size="22" text-anchor="middle" fill="#1c1c1c" stroke="#1c1c1c" stroke-width="0.4">40</text>
<text x="103" y="232.9" font-size="22" text-anchor="middle" fill="#1c1c1c" stroke="#1c1c1c" stroke-width="0.4">11</text>
<text x="213" y="255.9" font-size="22" text-anchor="middle" fill="#1c1c1c" stroke="#1c1c1c" stroke-width="0.4">141</text>
<text x="170" y="328.9" font-size="22" text-anchor="middle" fill="#1c1c1c" stroke="#1c1c1c" stroke-width="0.4">119</text>
<text x="161" y="373.9" font-size="22" text-anchor="middle" fill="#1c1c1c" stroke="#1c1c1c" stroke-width="0.4">138</text>
<text x="431" y="374.9" font-size="22" text-anchor="middle" fill="#1c1c1c" stroke="#1c1c1c" stroke-width="0.4">143</text>
<text x="464" y="455.9" font-size="22" text-anchor="middle" fill="#1c1c1c" stroke="#1c1c1c" stroke-width="0.4">12</text>
<text x="260" y="483.9" font-size="22" text-anchor="middle" fill="#1c1c1c" stroke="#1c1c1c" stroke-width="0.4">37</text>
<text x="138" y="520.9" font-size="22" text-anchor="middle" fill="#1c1c1c" stroke="#1c1c1c" stroke-width="0.4">16</text>
<text x="254" y="529.9" font-size="22" text-anchor="middle" fill="#1c1c1c" stroke="#1c1c1c" stroke-width="0.4">141</text>
<text x="364" y="513.9" font-size="22" text-anchor="middle" fill="#1c1c1c" stroke="#1c1c1c" stroke-width="0.4">122</text>
<text x="406" y="546.9" font-size="22" text-anchor="middle" fill="#1c1c1c" stroke="#1c1c1c" stroke-width="0.4">30</text>
<text x="445" y="567.9" font-size="22" text-anchor="middle" fill="#1c1c1c" stroke="#1c1c1c" stroke-width="0.4">31</text>
<text x="481" y="595.9" font-size="22" text-anchor="middle" fill="#1c1c1c" stroke="#1c1c1c" stroke-width="0.4">32</text>
<text x="430" y="603.9" font-size="22" text-anchor="middle" fill="#1c1c1c" stroke="#1c1c1c" stroke-width="0.4">141</text>
<text x="543" y="603.9" font-size="22" text-anchor="middle" fill="#1c1c1c" stroke="#1c1c1c" stroke-width="0.4">26</text>
<text x="283" y="660.9" font-size="22" text-anchor="middle" fill="#1c1c1c" stroke="#1c1c1c" stroke-width="0.4">28</text>
<text x="79" y="732.9" font-size="22" text-anchor="middle" fill="#1c1c1c" stroke="#1c1c1c" stroke-width="0.4">143</text>
<text x="80" y="894.9" font-size="22" text-anchor="middle" fill="#1c1c1c" stroke="#1c1c1c" stroke-width="0.4">24</text>
<text x="129" y="897.4" font-size="22" text-anchor="middle" fill="#1c1c1c" stroke="#1c1c1c" stroke-width="0.4">18</text>
<text x="369" y="858.9" font-size="22" text-anchor="middle" fill="#1c1c1c" stroke="#1c1c1c" stroke-width="0.4">17</text>
<text x="420" y="888.9" font-size="22" text-anchor="middle" fill="#1c1c1c" stroke="#1c1c1c" stroke-width="0.4">17</text>
<text x="120" y="999.9" font-size="22" text-anchor="middle" fill="#1c1c1c" stroke="#1c1c1c" stroke-width="0.4">117</text>
<text x="222" y="1019.9" font-size="22" text-anchor="middle" fill="#1c1c1c" stroke="#1c1c1c" stroke-width="0.4">17</text>
<text x="297" y="1012.9" font-size="22" text-anchor="middle" fill="#1c1c1c" stroke="#1c1c1c" stroke-width="0.4">25</text>
<text x="463" y="949.9" font-size="22" text-anchor="middle" fill="#1c1c1c" stroke="#1c1c1c" stroke-width="0.4">143</text>
<text x="524" y="917.9" font-size="22" text-anchor="middle" fill="#1c1c1c" stroke="#1c1c1c" stroke-width="0.4">20</text>
<text x="444" y="1050.9" font-size="22" text-anchor="middle" fill="#1c1c1c" stroke="#1c1c1c" stroke-width="0.4">19</text>
<text x="478" y="1062.9" font-size="22" text-anchor="middle" fill="#1c1c1c" stroke="#1c1c1c" stroke-width="0.4">22</text>
<text x="347" y="1078.9" font-size="22" text-anchor="middle" fill="#1c1c1c" stroke="#1c1c1c" stroke-width="0.4">20</text>
<text x="222" y="1100.9" font-size="22" text-anchor="middle" fill="#1c1c1c" stroke="#1c1c1c" stroke-width="0.4">157</text>
<text x="346" y="1125.9" font-size="22" text-anchor="middle" fill="#1c1c1c" stroke="#1c1c1c" stroke-width="0.4">22</text>
<text x="167" y="1124.9" font-size="22" text-anchor="middle" fill="#1c1c1c" stroke="#1c1c1c" stroke-width="0.4">23</text>
<text x="110" y="1161.9" font-size="22" text-anchor="middle" fill="#1c1c1c" stroke="#1c1c1c" stroke-width="0.4">118</text>
<text x="210" y="1212.9" font-size="22" text-anchor="middle" fill="#1c1c1c" stroke="#1c1c1c" stroke-width="0.4">118</text>
<text x="455" y="1175.9" font-size="22" text-anchor="middle" fill="#1c1c1c" stroke="#1c1c1c" stroke-width="0.4">21</text>
<text x="699" y="174.9" font-size="22" text-anchor="middle" fill="#1c1c1c" stroke="#1c1c1c" stroke-width="0.4">9</text>
<text x="1045" y="186.9" font-size="22" text-anchor="middle" fill="#1c1c1c" stroke="#1c1c1c" stroke-width="0.4">51</text>
<text x="958" y="294.9" font-size="22" text-anchor="middle" fill="#1c1c1c" stroke="#1c1c1c" stroke-width="0.4">124</text>
<text x="1020" y="312.9" font-size="22" text-anchor="middle" fill="#1c1c1c" stroke="#1c1c1c" stroke-width="0.4">150</text>
<text x="1218" y="255.4" font-size="22" text-anchor="middle" fill="#1c1c1c" stroke="#1c1c1c" stroke-width="0.4">143</text>
<text x="1185" y="370.9" font-size="22" text-anchor="middle" fill="#1c1c1c" stroke="#1c1c1c" stroke-width="0.4">48</text>
<text x="1300" y="283.9" font-size="22" text-anchor="middle" fill="#1c1c1c" stroke="#1c1c1c" stroke-width="0.4">50</text>
<text x="1070" y="462.9" font-size="22" text-anchor="middle" fill="#1c1c1c" stroke="#1c1c1c" stroke-width="0.4">156</text>
<text x="1417" y="437.9" font-size="22" text-anchor="middle" fill="#1c1c1c" stroke="#1c1c1c" stroke-width="0.4">11</text>
<text x="826" y="493.9" font-size="22" text-anchor="middle" fill="#1c1c1c" stroke="#1c1c1c" stroke-width="0.4">5</text>
<text x="1012" y="522.9" font-size="22" text-anchor="middle" fill="#1c1c1c" stroke="#1c1c1c" stroke-width="0.4">143</text>
<text x="1069" y="554.9" font-size="22" text-anchor="middle" fill="#1c1c1c" stroke="#1c1c1c" stroke-width="0.4">143</text>
<text x="676" y="570.9" font-size="22" text-anchor="middle" fill="#1c1c1c" stroke="#1c1c1c" stroke-width="0.4">32</text>
<text x="739" y="553.9" font-size="22" text-anchor="middle" fill="#1c1c1c" stroke="#1c1c1c" stroke-width="0.4">154</text>
<text x="914" y="636.9" font-size="22" text-anchor="middle" fill="#1c1c1c" stroke="#1c1c1c" stroke-width="0.4">30</text>
<text x="952" y="668.9" font-size="22" text-anchor="middle" fill="#1c1c1c" stroke="#1c1c1c" stroke-width="0.4">122</text>
<text x="856" y="704.9" font-size="22" text-anchor="middle" fill="#1c1c1c" stroke="#1c1c1c" stroke-width="0.4">117</text>
<text x="788" y="764.9" font-size="22" text-anchor="middle" fill="#1c1c1c" stroke="#1c1c1c" stroke-width="0.4">18</text>
<text x="778" y="845.9" font-size="22" text-anchor="middle" fill="#1c1c1c" stroke="#1c1c1c" stroke-width="0.4">141</text>
<text x="660" y="858.9" font-size="22" text-anchor="middle" fill="#1c1c1c" stroke="#1c1c1c" stroke-width="0.4">27</text>
<text x="534" y="825.9" font-size="22" text-anchor="middle" fill="#1c1c1c" stroke="#1c1c1c" stroke-width="0.4">14</text>
<text x="812" y="904.9" font-size="22" text-anchor="middle" fill="#1c1c1c" stroke="#1c1c1c" stroke-width="0.4">35</text>
<text x="1040" y="613.9" font-size="22" text-anchor="middle" fill="#1c1c1c" stroke="#1c1c1c" stroke-width="0.4">4</text>
<text x="1018" y="697.9" font-size="22" text-anchor="middle" fill="#1c1c1c" stroke="#1c1c1c" stroke-width="0.4">123</text>
<text x="1231" y="546.9" font-size="22" text-anchor="middle" fill="#1c1c1c" stroke="#1c1c1c" stroke-width="0.4">143</text>
<text x="1238" y="584.9" font-size="22" text-anchor="middle" fill="#1c1c1c" stroke="#1c1c1c" stroke-width="0.4">143</text>
<text x="1322" y="558.9" font-size="22" text-anchor="middle" fill="#1c1c1c" stroke="#1c1c1c" stroke-width="0.4">45</text>
<text x="1333" y="584.9" font-size="22" text-anchor="middle" fill="#1c1c1c" stroke="#1c1c1c" stroke-width="0.4">42</text>
<text x="1413" y="572.9" font-size="22" text-anchor="middle" fill="#1c1c1c" stroke="#1c1c1c" stroke-width="0.4">143</text>
<text x="1526" y="584.9" font-size="22" text-anchor="middle" fill="#1c1c1c" stroke="#1c1c1c" stroke-width="0.4">37</text>
<text x="1241" y="663.9" font-size="22" text-anchor="middle" fill="#1c1c1c" stroke="#1c1c1c" stroke-width="0.4">43</text>
<text x="1241" y="699.9" font-size="22" text-anchor="middle" fill="#1c1c1c" stroke="#1c1c1c" stroke-width="0.4">16</text>
<text x="1282" y="711.9" font-size="22" text-anchor="middle" fill="#1c1c1c" stroke="#1c1c1c" stroke-width="0.4">40</text>
<text x="1324" y="700.9" font-size="22" text-anchor="middle" fill="#1c1c1c" stroke="#1c1c1c" stroke-width="0.4">44</text>
<text x="1173" y="718.9" font-size="22" text-anchor="middle" fill="#1c1c1c" stroke="#1c1c1c" stroke-width="0.4">143</text>
<text x="1504" y="692.9" font-size="22" text-anchor="middle" fill="#1c1c1c" stroke="#1c1c1c" stroke-width="0.4">38</text>
<text x="1486" y="723.9" font-size="22" text-anchor="middle" fill="#1c1c1c" stroke="#1c1c1c" stroke-width="0.4">47</text>
<text x="1156" y="771.9" font-size="22" text-anchor="middle" fill="#1c1c1c" stroke="#1c1c1c" stroke-width="0.4">30</text>
<text x="1413" y="816.9" font-size="22" text-anchor="middle" fill="#1c1c1c" stroke="#1c1c1c" stroke-width="0.4">36</text>
<text x="1538" y="781.9" font-size="22" text-anchor="middle" fill="#1c1c1c" stroke="#1c1c1c" stroke-width="0.4">13</text>
<text x="1446" y="852.4" font-size="22" text-anchor="middle" fill="#1c1c1c" stroke="#1c1c1c" stroke-width="0.4">154</text>
<text x="1193" y="906.9" font-size="22" text-anchor="middle" fill="#1c1c1c" stroke="#1c1c1c" stroke-width="0.4">123</text>
<text x="1470" y="959.9" font-size="22" text-anchor="middle" fill="#1c1c1c" stroke="#1c1c1c" stroke-width="0.4">32</text>
<text x="919" y="920.9" font-size="22" text-anchor="middle" fill="#1c1c1c" stroke="#1c1c1c" stroke-width="0.4">15</text>
<text x="1128" y="986.9" font-size="22" text-anchor="middle" fill="#1c1c1c" stroke="#1c1c1c" stroke-width="0.4">27</text>
<text x="1073" y="1025.9" font-size="22" text-anchor="middle" fill="#1c1c1c" stroke="#1c1c1c" stroke-width="0.4">19</text>
<text x="932" y="1131.9" font-size="22" text-anchor="middle" fill="#1c1c1c" stroke="#1c1c1c" stroke-width="0.4">21</text>
<text x="684" y="938.9" font-size="22" text-anchor="middle" fill="#1c1c1c" stroke="#1c1c1c" stroke-width="0.4">23</text>
<text x="605" y="970.9" font-size="22" text-anchor="middle" fill="#1c1c1c" stroke="#1c1c1c" stroke-width="0.4">157</text>
<text x="780" y="982.9" font-size="22" text-anchor="middle" fill="#1c1c1c" stroke="#1c1c1c" stroke-width="0.4">10</text>
<text x="536" y="1135.9" font-size="22" text-anchor="middle" fill="#1c1c1c" stroke="#1c1c1c" stroke-width="0.4">29</text>
<text x="568" y="1185.9" font-size="22" text-anchor="middle" fill="#1c1c1c" stroke="#1c1c1c" stroke-width="0.4">24</text>
<text x="586" y="1210.9" font-size="22" text-anchor="middle" fill="#1c1c1c" stroke="#1c1c1c" stroke-width="0.4">25</text>
<text x="1171" y="1065.9" font-size="22" text-anchor="middle" fill="#1c1c1c" stroke="#1c1c1c" stroke-width="0.4">52</text>
<text x="1331" y="1065.9" font-size="22" text-anchor="middle" fill="#1c1c1c" stroke="#1c1c1c" stroke-width="0.4">58</text>
<text x="1471" y="1072.9" font-size="22" text-anchor="middle" fill="#1c1c1c" stroke="#1c1c1c" stroke-width="0.4">31</text>
<text x="1506" y="1092.9" font-size="22" text-anchor="middle" fill="#1c1c1c" stroke="#1c1c1c" stroke-width="0.4">30</text>
<text x="1542" y="1102.9" font-size="22" text-anchor="middle" fill="#1c1c1c" stroke="#1c1c1c" stroke-width="0.4">122</text>
</svg>
</body></html>
